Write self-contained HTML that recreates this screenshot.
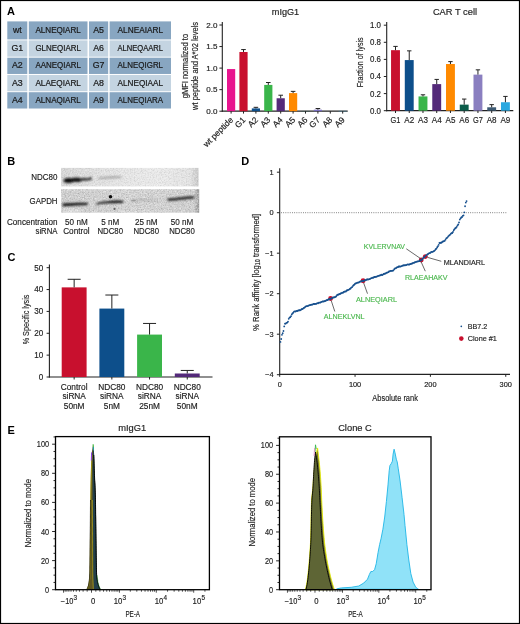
<!DOCTYPE html>
<html><head><meta charset="utf-8"><style>
html,body{margin:0;padding:0;background:#fff;}
svg{display:block;will-change:transform;}
text{font-family:"Liberation Sans",sans-serif;}
</style></head><body>
<svg width="520" height="624" viewBox="0 0 520 624">
<rect width="520" height="624" fill="#fff"/>
<text x="7.00" y="14.80" font-size="11" text-anchor="start" fill="#000" font-weight="bold" >A</text>
<rect x="7.30" y="21.40" width="20.00" height="18.00" fill="#88a6c1" />
<text x="17.30" y="33.00" font-size="8.8" text-anchor="middle" fill="#1a1a1a" stroke="#1a1a1a" stroke-width="0.22">wt</text>
<rect x="28.80" y="21.40" width="58.70" height="18.00" fill="#88a6c1" />
<text x="58.15" y="33.00" font-size="8.8" text-anchor="middle" fill="#1a1a1a" textLength="45.5" lengthAdjust="spacingAndGlyphs" stroke="#1a1a1a" stroke-width="0.22">ALNEQIARL</text>
<rect x="89.00" y="21.40" width="19.20" height="18.00" fill="#88a6c1" />
<text x="98.60" y="33.00" font-size="8.8" text-anchor="middle" fill="#1a1a1a" stroke="#1a1a1a" stroke-width="0.22">A5</text>
<rect x="109.60" y="21.40" width="61.40" height="18.00" fill="#88a6c1" />
<text x="140.30" y="33.00" font-size="8.8" text-anchor="middle" fill="#1a1a1a" textLength="45.5" lengthAdjust="spacingAndGlyphs" stroke="#1a1a1a" stroke-width="0.22">ALNEAIARL</text>
<rect x="7.30" y="40.40" width="20.00" height="16.30" fill="#c4d4e1" />
<text x="17.30" y="51.15" font-size="8.8" text-anchor="middle" fill="#1a1a1a" stroke="#1a1a1a" stroke-width="0.22">G1</text>
<rect x="28.80" y="40.40" width="58.70" height="16.30" fill="#c4d4e1" />
<text x="58.15" y="51.15" font-size="8.8" text-anchor="middle" fill="#1a1a1a" textLength="45.5" lengthAdjust="spacingAndGlyphs" stroke="#1a1a1a" stroke-width="0.22">GLNEQIARL</text>
<rect x="89.00" y="40.40" width="19.20" height="16.30" fill="#c4d4e1" />
<text x="98.60" y="51.15" font-size="8.8" text-anchor="middle" fill="#1a1a1a" stroke="#1a1a1a" stroke-width="0.22">A6</text>
<rect x="109.60" y="40.40" width="61.40" height="16.30" fill="#c4d4e1" />
<text x="140.30" y="51.15" font-size="8.8" text-anchor="middle" fill="#1a1a1a" textLength="45.5" lengthAdjust="spacingAndGlyphs" stroke="#1a1a1a" stroke-width="0.22">ALNEQAARL</text>
<rect x="7.30" y="57.67" width="20.00" height="16.30" fill="#88a6c1" />
<text x="17.30" y="68.42" font-size="8.8" text-anchor="middle" fill="#1a1a1a" stroke="#1a1a1a" stroke-width="0.22">A2</text>
<rect x="28.80" y="57.67" width="58.70" height="16.30" fill="#88a6c1" />
<text x="58.15" y="68.42" font-size="8.8" text-anchor="middle" fill="#1a1a1a" textLength="45.5" lengthAdjust="spacingAndGlyphs" stroke="#1a1a1a" stroke-width="0.22">AANEQIARL</text>
<rect x="89.00" y="57.67" width="19.20" height="16.30" fill="#88a6c1" />
<text x="98.60" y="68.42" font-size="8.8" text-anchor="middle" fill="#1a1a1a" stroke="#1a1a1a" stroke-width="0.22">G7</text>
<rect x="109.60" y="57.67" width="61.40" height="16.30" fill="#88a6c1" />
<text x="140.30" y="68.42" font-size="8.8" text-anchor="middle" fill="#1a1a1a" textLength="45.5" lengthAdjust="spacingAndGlyphs" stroke="#1a1a1a" stroke-width="0.22">ALNEQIGRL</text>
<rect x="7.30" y="74.94" width="20.00" height="16.30" fill="#c4d4e1" />
<text x="17.30" y="85.69" font-size="8.8" text-anchor="middle" fill="#1a1a1a" stroke="#1a1a1a" stroke-width="0.22">A3</text>
<rect x="28.80" y="74.94" width="58.70" height="16.30" fill="#c4d4e1" />
<text x="58.15" y="85.69" font-size="8.8" text-anchor="middle" fill="#1a1a1a" textLength="45.5" lengthAdjust="spacingAndGlyphs" stroke="#1a1a1a" stroke-width="0.22">ALAEQIARL</text>
<rect x="89.00" y="74.94" width="19.20" height="16.30" fill="#c4d4e1" />
<text x="98.60" y="85.69" font-size="8.8" text-anchor="middle" fill="#1a1a1a" stroke="#1a1a1a" stroke-width="0.22">A8</text>
<rect x="109.60" y="74.94" width="61.40" height="16.30" fill="#c4d4e1" />
<text x="140.30" y="85.69" font-size="8.8" text-anchor="middle" fill="#1a1a1a" textLength="45.5" lengthAdjust="spacingAndGlyphs" stroke="#1a1a1a" stroke-width="0.22">ALNEQIAAL</text>
<rect x="7.30" y="92.21" width="20.00" height="16.30" fill="#88a6c1" />
<text x="17.30" y="102.96" font-size="8.8" text-anchor="middle" fill="#1a1a1a" stroke="#1a1a1a" stroke-width="0.22">A4</text>
<rect x="28.80" y="92.21" width="58.70" height="16.30" fill="#88a6c1" />
<text x="58.15" y="102.96" font-size="8.8" text-anchor="middle" fill="#1a1a1a" textLength="45.5" lengthAdjust="spacingAndGlyphs" stroke="#1a1a1a" stroke-width="0.22">ALNAQIARL</text>
<rect x="89.00" y="92.21" width="19.20" height="16.30" fill="#88a6c1" />
<text x="98.60" y="102.96" font-size="8.8" text-anchor="middle" fill="#1a1a1a" stroke="#1a1a1a" stroke-width="0.22">A9</text>
<rect x="109.60" y="92.21" width="61.40" height="16.30" fill="#88a6c1" />
<text x="140.30" y="102.96" font-size="8.8" text-anchor="middle" fill="#1a1a1a" textLength="45.5" lengthAdjust="spacingAndGlyphs" stroke="#1a1a1a" stroke-width="0.22">ALNEQIARA</text>
<line x1="222.30" y1="22.00" x2="222.30" y2="111.70" stroke="#222" stroke-width="1.1" />
<line x1="221.80" y1="111.20" x2="347.70" y2="111.20" stroke="#222" stroke-width="1.2" />
<line x1="219.40" y1="111.20" x2="222.30" y2="111.20" stroke="#222" stroke-width="1" />
<text x="217.40" y="114.00" font-size="8.0" text-anchor="end" fill="#222" stroke="#222" stroke-width="0.16" textLength="11.2" lengthAdjust="spacingAndGlyphs" >0.0</text>
<line x1="219.40" y1="89.65" x2="222.30" y2="89.65" stroke="#222" stroke-width="1" />
<text x="217.40" y="92.45" font-size="8.0" text-anchor="end" fill="#222" stroke="#222" stroke-width="0.16" textLength="11.2" lengthAdjust="spacingAndGlyphs" >0.5</text>
<line x1="219.40" y1="68.10" x2="222.30" y2="68.10" stroke="#222" stroke-width="1" />
<text x="217.40" y="70.90" font-size="8.0" text-anchor="end" fill="#222" stroke="#222" stroke-width="0.16" textLength="11.2" lengthAdjust="spacingAndGlyphs" >1.0</text>
<line x1="219.40" y1="46.55" x2="222.30" y2="46.55" stroke="#222" stroke-width="1" />
<text x="217.40" y="49.35" font-size="8.0" text-anchor="end" fill="#222" stroke="#222" stroke-width="0.16" textLength="11.2" lengthAdjust="spacingAndGlyphs" >1.5</text>
<line x1="219.40" y1="25.00" x2="222.30" y2="25.00" stroke="#222" stroke-width="1" />
<text x="217.40" y="27.80" font-size="8.0" text-anchor="end" fill="#222" stroke="#222" stroke-width="0.16" textLength="11.2" lengthAdjust="spacingAndGlyphs" >2.0</text>
<rect x="227.00" y="69.05" width="8.20" height="42.15" fill="#e8158f" />
<line x1="231.10" y1="111.20" x2="231.10" y2="113.60" stroke="#222" stroke-width="1" />
<text x="233.70" y="120.50" font-size="8.4" text-anchor="end" fill="#222" stroke="#222" stroke-width="0.16" transform="rotate(-45 233.70 120.5)">wt peptide</text>
<rect x="239.40" y="51.98" width="8.20" height="59.22" fill="#c8102e" />
<line x1="243.50" y1="49.57" x2="243.50" y2="51.98" stroke="#222" stroke-width="1" />
<line x1="241.20" y1="49.57" x2="245.80" y2="49.57" stroke="#222" stroke-width="1" />
<line x1="243.50" y1="111.20" x2="243.50" y2="113.60" stroke="#222" stroke-width="1" />
<text x="246.10" y="120.50" font-size="8.4" text-anchor="end" fill="#222" stroke="#222" stroke-width="0.16" transform="rotate(-45 246.10 120.5)">G1</text>
<rect x="251.80" y="108.40" width="8.20" height="2.80" fill="#0d4f8b" />
<line x1="255.90" y1="107.32" x2="255.90" y2="108.40" stroke="#222" stroke-width="1" />
<line x1="253.60" y1="107.32" x2="258.20" y2="107.32" stroke="#222" stroke-width="1" />
<line x1="255.90" y1="111.20" x2="255.90" y2="113.60" stroke="#222" stroke-width="1" />
<text x="258.50" y="120.50" font-size="8.4" text-anchor="end" fill="#222" stroke="#222" stroke-width="0.16" transform="rotate(-45 258.50 120.5)">A2</text>
<rect x="264.20" y="84.91" width="8.20" height="26.29" fill="#3ab54a" />
<line x1="268.30" y1="82.50" x2="268.30" y2="84.91" stroke="#222" stroke-width="1" />
<line x1="266.00" y1="82.50" x2="270.60" y2="82.50" stroke="#222" stroke-width="1" />
<line x1="268.30" y1="111.20" x2="268.30" y2="113.60" stroke="#222" stroke-width="1" />
<text x="270.90" y="120.50" font-size="8.4" text-anchor="end" fill="#222" stroke="#222" stroke-width="0.16" transform="rotate(-45 270.90 120.5)">A3</text>
<rect x="276.60" y="98.27" width="8.20" height="12.93" fill="#542a7a" />
<line x1="280.70" y1="95.21" x2="280.70" y2="98.27" stroke="#222" stroke-width="1" />
<line x1="278.40" y1="95.21" x2="283.00" y2="95.21" stroke="#222" stroke-width="1" />
<line x1="280.70" y1="111.20" x2="280.70" y2="113.60" stroke="#222" stroke-width="1" />
<text x="283.30" y="120.50" font-size="8.4" text-anchor="end" fill="#222" stroke="#222" stroke-width="0.16" transform="rotate(-45 283.30 120.5)">A4</text>
<rect x="289.00" y="93.10" width="8.20" height="18.10" fill="#ff8a00" />
<line x1="293.10" y1="91.37" x2="293.10" y2="93.10" stroke="#222" stroke-width="1" />
<line x1="290.80" y1="91.37" x2="295.40" y2="91.37" stroke="#222" stroke-width="1" />
<line x1="293.10" y1="111.20" x2="293.10" y2="113.60" stroke="#222" stroke-width="1" />
<text x="295.70" y="120.50" font-size="8.4" text-anchor="end" fill="#222" stroke="#222" stroke-width="0.16" transform="rotate(-45 295.70 120.5)">A5</text>
<rect x="301.40" y="110.98" width="8.20" height="0.22" fill="#0b5c4a" />
<line x1="305.50" y1="111.20" x2="305.50" y2="113.60" stroke="#222" stroke-width="1" />
<text x="308.10" y="120.50" font-size="8.4" text-anchor="end" fill="#222" stroke="#222" stroke-width="0.16" transform="rotate(-45 308.10 120.5)">A6</text>
<rect x="313.80" y="109.69" width="8.20" height="1.51" fill="#7a6fc0" />
<line x1="317.90" y1="108.53" x2="317.90" y2="109.69" stroke="#222" stroke-width="1" />
<line x1="315.60" y1="108.53" x2="320.20" y2="108.53" stroke="#222" stroke-width="1" />
<line x1="317.90" y1="111.20" x2="317.90" y2="113.60" stroke="#222" stroke-width="1" />
<text x="320.50" y="120.50" font-size="8.4" text-anchor="end" fill="#222" stroke="#222" stroke-width="0.16" transform="rotate(-45 320.50 120.5)">G7</text>
<line x1="330.30" y1="111.20" x2="330.30" y2="113.60" stroke="#222" stroke-width="1" />
<text x="332.90" y="120.50" font-size="8.4" text-anchor="end" fill="#222" stroke="#222" stroke-width="0.16" transform="rotate(-45 332.90 120.5)">A8</text>
<rect x="338.60" y="110.94" width="8.20" height="0.26" fill="#2aa8e0" />
<line x1="342.70" y1="111.20" x2="342.70" y2="113.60" stroke="#222" stroke-width="1" />
<text x="345.30" y="120.50" font-size="8.4" text-anchor="end" fill="#222" stroke="#222" stroke-width="0.16" transform="rotate(-45 345.30 120.5)">A9</text>
<text x="285.50" y="15.00" font-size="9" text-anchor="middle" fill="#222" stroke="#222" stroke-width="0.16" textLength="27.4" lengthAdjust="spacingAndGlyphs" >mIgG1</text>
<text x="0.00" y="0.00" font-size="9.0" text-anchor="middle" fill="#222" stroke="#222" stroke-width="0.16" textLength="64.4" lengthAdjust="spacingAndGlyphs" transform="translate(188.3,66.1) rotate(-90)">gMFI normalized to</text>
<text x="0.00" y="0.00" font-size="9.0" text-anchor="middle" fill="#222" stroke="#222" stroke-width="0.16" textLength="88" lengthAdjust="spacingAndGlyphs" transform="translate(198.4,65.9) rotate(-90)">wt peptide and A*02 levels</text>
<line x1="386.70" y1="22.00" x2="386.70" y2="111.20" stroke="#222" stroke-width="1.1" />
<line x1="386.20" y1="110.70" x2="513.30" y2="110.70" stroke="#222" stroke-width="1.2" />
<line x1="383.80" y1="110.70" x2="386.70" y2="110.70" stroke="#222" stroke-width="1" />
<text x="381.00" y="113.60" font-size="8.2" text-anchor="end" fill="#222" stroke="#222" stroke-width="0.16" textLength="11" lengthAdjust="spacingAndGlyphs" >0.0</text>
<line x1="383.80" y1="93.60" x2="386.70" y2="93.60" stroke="#222" stroke-width="1" />
<text x="381.00" y="96.50" font-size="8.2" text-anchor="end" fill="#222" stroke="#222" stroke-width="0.16" textLength="11" lengthAdjust="spacingAndGlyphs" >0.2</text>
<line x1="383.80" y1="76.50" x2="386.70" y2="76.50" stroke="#222" stroke-width="1" />
<text x="381.00" y="79.40" font-size="8.2" text-anchor="end" fill="#222" stroke="#222" stroke-width="0.16" textLength="11" lengthAdjust="spacingAndGlyphs" >0.4</text>
<line x1="383.80" y1="59.40" x2="386.70" y2="59.40" stroke="#222" stroke-width="1" />
<text x="381.00" y="62.30" font-size="8.2" text-anchor="end" fill="#222" stroke="#222" stroke-width="0.16" textLength="11" lengthAdjust="spacingAndGlyphs" >0.6</text>
<line x1="383.80" y1="42.30" x2="386.70" y2="42.30" stroke="#222" stroke-width="1" />
<text x="381.00" y="45.20" font-size="8.2" text-anchor="end" fill="#222" stroke="#222" stroke-width="0.16" textLength="11" lengthAdjust="spacingAndGlyphs" >0.8</text>
<line x1="383.80" y1="25.20" x2="386.70" y2="25.20" stroke="#222" stroke-width="1" />
<text x="381.00" y="28.10" font-size="8.2" text-anchor="end" fill="#222" stroke="#222" stroke-width="0.16" textLength="11" lengthAdjust="spacingAndGlyphs" >1.0</text>
<rect x="391.05" y="50.17" width="8.90" height="60.53" fill="#c8102e" />
<line x1="395.50" y1="46.40" x2="395.50" y2="50.17" stroke="#222" stroke-width="1" />
<line x1="393.30" y1="46.40" x2="397.70" y2="46.40" stroke="#222" stroke-width="1" />
<line x1="395.50" y1="110.70" x2="395.50" y2="113.00" stroke="#222" stroke-width="1" />
<text x="395.50" y="122.90" font-size="9.6" text-anchor="middle" fill="#222" stroke="#222" stroke-width="0.16" textLength="9.9" lengthAdjust="spacingAndGlyphs" >G1</text>
<rect x="404.79" y="60.08" width="8.90" height="50.62" fill="#0d4f8b" />
<line x1="409.24" y1="50.85" x2="409.24" y2="60.08" stroke="#222" stroke-width="1" />
<line x1="407.04" y1="50.85" x2="411.44" y2="50.85" stroke="#222" stroke-width="1" />
<line x1="409.24" y1="110.70" x2="409.24" y2="113.00" stroke="#222" stroke-width="1" />
<text x="409.24" y="122.90" font-size="9.6" text-anchor="middle" fill="#222" stroke="#222" stroke-width="0.16" textLength="9.9" lengthAdjust="spacingAndGlyphs" >A2</text>
<rect x="418.53" y="96.42" width="8.90" height="14.28" fill="#3ab54a" />
<line x1="422.98" y1="94.80" x2="422.98" y2="96.42" stroke="#222" stroke-width="1" />
<line x1="420.78" y1="94.80" x2="425.18" y2="94.80" stroke="#222" stroke-width="1" />
<line x1="422.98" y1="110.70" x2="422.98" y2="113.00" stroke="#222" stroke-width="1" />
<text x="422.98" y="122.90" font-size="9.6" text-anchor="middle" fill="#222" stroke="#222" stroke-width="0.16" textLength="9.9" lengthAdjust="spacingAndGlyphs" >A3</text>
<rect x="432.27" y="84.11" width="8.90" height="26.59" fill="#542a7a" />
<line x1="436.72" y1="79.41" x2="436.72" y2="84.11" stroke="#222" stroke-width="1" />
<line x1="434.52" y1="79.41" x2="438.92" y2="79.41" stroke="#222" stroke-width="1" />
<line x1="436.72" y1="110.70" x2="436.72" y2="113.00" stroke="#222" stroke-width="1" />
<text x="436.72" y="122.90" font-size="9.6" text-anchor="middle" fill="#222" stroke="#222" stroke-width="0.16" textLength="9.9" lengthAdjust="spacingAndGlyphs" >A4</text>
<rect x="446.01" y="64.02" width="8.90" height="46.68" fill="#ff8a00" />
<line x1="450.46" y1="61.62" x2="450.46" y2="64.02" stroke="#222" stroke-width="1" />
<line x1="448.26" y1="61.62" x2="452.66" y2="61.62" stroke="#222" stroke-width="1" />
<line x1="450.46" y1="110.70" x2="450.46" y2="113.00" stroke="#222" stroke-width="1" />
<text x="450.46" y="122.90" font-size="9.6" text-anchor="middle" fill="#222" stroke="#222" stroke-width="0.16" textLength="9.9" lengthAdjust="spacingAndGlyphs" >A5</text>
<rect x="459.75" y="104.63" width="8.90" height="6.07" fill="#0b5c4a" />
<line x1="464.20" y1="99.07" x2="464.20" y2="104.63" stroke="#222" stroke-width="1" />
<line x1="462.00" y1="99.07" x2="466.40" y2="99.07" stroke="#222" stroke-width="1" />
<line x1="464.20" y1="110.70" x2="464.20" y2="113.00" stroke="#222" stroke-width="1" />
<text x="464.20" y="122.90" font-size="9.6" text-anchor="middle" fill="#222" stroke="#222" stroke-width="0.16" textLength="9.9" lengthAdjust="spacingAndGlyphs" >A6</text>
<rect x="473.49" y="74.62" width="8.90" height="36.08" fill="#8a7fc0" />
<line x1="477.94" y1="69.83" x2="477.94" y2="74.62" stroke="#222" stroke-width="1" />
<line x1="475.74" y1="69.83" x2="480.14" y2="69.83" stroke="#222" stroke-width="1" />
<line x1="477.94" y1="110.70" x2="477.94" y2="113.00" stroke="#222" stroke-width="1" />
<text x="477.94" y="122.90" font-size="9.6" text-anchor="middle" fill="#222" stroke="#222" stroke-width="0.16" textLength="9.9" lengthAdjust="spacingAndGlyphs" >G7</text>
<rect x="487.23" y="107.28" width="8.90" height="3.42" fill="#3d5a73" />
<line x1="491.68" y1="104.63" x2="491.68" y2="107.28" stroke="#222" stroke-width="1" />
<line x1="489.48" y1="104.63" x2="493.88" y2="104.63" stroke="#222" stroke-width="1" />
<line x1="491.68" y1="110.70" x2="491.68" y2="113.00" stroke="#222" stroke-width="1" />
<text x="491.68" y="122.90" font-size="9.6" text-anchor="middle" fill="#222" stroke="#222" stroke-width="0.16" textLength="9.9" lengthAdjust="spacingAndGlyphs" >A8</text>
<rect x="500.97" y="102.24" width="8.90" height="8.46" fill="#2aa8e0" />
<line x1="505.42" y1="96.42" x2="505.42" y2="102.24" stroke="#222" stroke-width="1" />
<line x1="503.22" y1="96.42" x2="507.62" y2="96.42" stroke="#222" stroke-width="1" />
<line x1="505.42" y1="110.70" x2="505.42" y2="113.00" stroke="#222" stroke-width="1" />
<text x="505.42" y="122.90" font-size="9.6" text-anchor="middle" fill="#222" stroke="#222" stroke-width="0.16" textLength="9.9" lengthAdjust="spacingAndGlyphs" >A9</text>
<text x="455.00" y="15.40" font-size="9.5" text-anchor="middle" fill="#222" stroke="#222" stroke-width="0.16" textLength="44.2" lengthAdjust="spacingAndGlyphs" >CAR T cell</text>
<text x="0.00" y="0.00" font-size="9.5" text-anchor="middle" fill="#222" stroke="#222" stroke-width="0.16" textLength="50" lengthAdjust="spacingAndGlyphs" transform="translate(363.2,62.3) rotate(-90)">Fraction of lysis</text>
<text x="7.20" y="164.80" font-size="11" text-anchor="start" fill="#000" font-weight="bold" >B</text>
<defs><filter id="noise" x="0" y="0" width="100%" height="100%" color-interpolation-filters="sRGB"><feTurbulence type="fractalNoise" baseFrequency="0.75" numOctaves="2" seed="5" result="n"/><feColorMatrix in="n" type="matrix" values="0 0 0 0 0  0 0 0 0 0  0 0 0 0 0  0 0 0 -2.2 1.25" result="m"/><feComposite in="m" in2="SourceGraphic" operator="in"/></filter><filter id="noiseW" x="0" y="0" width="100%" height="100%" color-interpolation-filters="sRGB"><feTurbulence type="fractalNoise" baseFrequency="0.7" numOctaves="2" seed="11" result="n"/><feColorMatrix in="n" type="matrix" values="0 0 0 0 1  0 0 0 0 1  0 0 0 0 1  0 0 0 2.4 -1.15" result="m"/><feComposite in="m" in2="SourceGraphic" operator="in"/></filter><filter id="bl1" x="-30%" y="-100%" width="160%" height="300%"><feGaussianBlur stdDeviation="0.85"/></filter><filter id="bl2" x="-50%" y="-50%" width="200%" height="200%"><feGaussianBlur stdDeviation="0.6"/></filter><filter id="bl3" x="-30%" y="-100%" width="160%" height="300%"><feGaussianBlur stdDeviation="1.1"/></filter><linearGradient id="g1" x1="0" x2="1" y1="0" y2="0"><stop offset="0" stop-color="#d8d8d8"/><stop offset="0.35" stop-color="#e4e4e4"/><stop offset="0.7" stop-color="#ebebeb"/><stop offset="0.94" stop-color="#e4e4e4"/><stop offset="1" stop-color="#c8c8c8"/></linearGradient><linearGradient id="g2" x1="0" x2="1" y1="0" y2="0"><stop offset="0" stop-color="#cfcfcf"/><stop offset="0.5" stop-color="#d6d6d6"/><stop offset="0.96" stop-color="#d2d2d2"/><stop offset="1" stop-color="#9a9a9a"/></linearGradient></defs>
<rect x="61.10" y="167.90" width="137.40" height="18.50" fill="url(#g1)" />
<rect x="61.10" y="167.90" width="137.40" height="18.50" fill="#000" opacity="0.11" filter="url(#noise)"/>
<rect x="61.10" y="167.90" width="137.40" height="18.50" fill="#fff" opacity="0.5" filter="url(#noiseW)"/>
<rect x="61.10" y="189.20" width="138.10" height="23.50" fill="url(#g2)" />
<rect x="61.10" y="189.20" width="138.10" height="23.50" fill="#000" opacity="0.18" filter="url(#noise)"/>
<rect x="61.10" y="189.20" width="138.10" height="23.50" fill="#fff" opacity="0.6" filter="url(#noiseW)"/>
<ellipse cx="72" cy="211" rx="10" ry="3" fill="#fff" opacity="0.25" filter="url(#bl3)"/>
<g filter="url(#bl1)"><ellipse cx="68.6" cy="180.6" rx="5.0" ry="2.5" fill="#111"/><ellipse cx="76.5" cy="179.8" rx="6.2" ry="2.3" fill="#141414"/><ellipse cx="84.5" cy="179.3" rx="5.2" ry="1.5" fill="#3a3a3a"/><circle cx="90.2" cy="178.8" r="1.45" fill="#1a1a1a"/></g>
<path d="M98.2,177.8 C104,176.4 114,175.9 121.7,176.4 L121.7,178.1 C114,178.2 104,178.8 98.2,179.3 Z" fill="#8c8c8c" opacity="0.75" filter="url(#bl3)"/>
<g filter="url(#bl1)"><path d="M62.6,203.4 C70,203.0 80,202.6 87.7,202.8 L87.7,205.0 C80,205.2 70,205.9 62.6,206.3 Z" fill="#151515"/><path d="M96.4,203.6 C100,201.8 108,201.0 114,200.6 C118,200.4 121,200.5 123.3,200.9 L123.3,202.9 C118,203.0 110,203.2 104,203.4 C100,203.6 98,204.2 96.4,205.0 Z" fill="#161616"/><path d="M167.7,198.6 C176,197.8 186,196.6 194.2,196.3 L194.2,198.4 C186,198.8 176,200.2 167.7,201.1 Z" fill="#1a1a1a"/></g>
<circle cx="110.5" cy="196.7" r="1.8" fill="#111" filter="url(#bl2)"/>
<circle cx="114.5" cy="208.9" r="1.1" fill="#666" filter="url(#bl2)"/>
<path d="M131,200.0 C140,199.4 150,199.5 156.5,199.7 L156.5,200.8 C150,200.8 140,201.0 131,201.3 Z" fill="#8a8a8a" opacity="0.55" filter="url(#bl1)"/>
<ellipse cx="133.5" cy="200.6" rx="2.5" ry="0.9" fill="#777" opacity="0.5" filter="url(#bl2)"/>
<text x="57.50" y="180.40" font-size="9.4" text-anchor="end" fill="#222" stroke="#222" stroke-width="0.16" textLength="26.2" lengthAdjust="spacingAndGlyphs" >NDC80</text>
<text x="57.50" y="204.20" font-size="9.4" text-anchor="end" fill="#222" stroke="#222" stroke-width="0.16" textLength="27.9" lengthAdjust="spacingAndGlyphs" >GAPDH</text>
<text x="57.50" y="224.70" font-size="9.4" text-anchor="end" fill="#222" stroke="#222" stroke-width="0.16" textLength="50.5" lengthAdjust="spacingAndGlyphs" >Concentration</text>
<text x="57.50" y="233.90" font-size="9.4" text-anchor="end" fill="#222" stroke="#222" stroke-width="0.16" textLength="22" lengthAdjust="spacingAndGlyphs" >siRNA</text>
<text x="76.40" y="224.70" font-size="9.4" text-anchor="middle" fill="#222" stroke="#222" stroke-width="0.16" textLength="22.6" lengthAdjust="spacingAndGlyphs" >50 nM</text>
<text x="76.40" y="233.90" font-size="9.4" text-anchor="middle" fill="#222" stroke="#222" stroke-width="0.16" textLength="26.4" lengthAdjust="spacingAndGlyphs" >Control</text>
<text x="110.20" y="224.70" font-size="9.4" text-anchor="middle" fill="#222" stroke="#222" stroke-width="0.16" textLength="18.0" lengthAdjust="spacingAndGlyphs" >5 nM</text>
<text x="110.20" y="233.90" font-size="9.4" text-anchor="middle" fill="#222" stroke="#222" stroke-width="0.16" textLength="25.6" lengthAdjust="spacingAndGlyphs" >NDC80</text>
<text x="146.20" y="224.70" font-size="9.4" text-anchor="middle" fill="#222" stroke="#222" stroke-width="0.16" textLength="22.6" lengthAdjust="spacingAndGlyphs" >25 nM</text>
<text x="146.20" y="233.90" font-size="9.4" text-anchor="middle" fill="#222" stroke="#222" stroke-width="0.16" textLength="25.6" lengthAdjust="spacingAndGlyphs" >NDC80</text>
<text x="182.00" y="224.70" font-size="9.4" text-anchor="middle" fill="#222" stroke="#222" stroke-width="0.16" textLength="22.6" lengthAdjust="spacingAndGlyphs" >50 nM</text>
<text x="182.00" y="233.90" font-size="9.4" text-anchor="middle" fill="#222" stroke="#222" stroke-width="0.16" textLength="25.6" lengthAdjust="spacingAndGlyphs" >NDC80</text>
<text x="7.40" y="260.60" font-size="11" text-anchor="start" fill="#000" font-weight="bold" >C</text>
<line x1="49.40" y1="264.50" x2="49.40" y2="377.50" stroke="#222" stroke-width="1.1" />
<line x1="48.90" y1="377.00" x2="212.50" y2="377.00" stroke="#222" stroke-width="1.2" />
<line x1="46.60" y1="377.00" x2="49.40" y2="377.00" stroke="#222" stroke-width="1" />
<text x="43.30" y="379.90" font-size="8.2" text-anchor="end" fill="#222" stroke="#222" stroke-width="0.16" textLength="4.5" lengthAdjust="spacingAndGlyphs" >0</text>
<line x1="46.60" y1="355.14" x2="49.40" y2="355.14" stroke="#222" stroke-width="1" />
<text x="43.30" y="358.04" font-size="8.2" text-anchor="end" fill="#222" stroke="#222" stroke-width="0.16" textLength="9.0" lengthAdjust="spacingAndGlyphs" >10</text>
<line x1="46.60" y1="333.28" x2="49.40" y2="333.28" stroke="#222" stroke-width="1" />
<text x="43.30" y="336.18" font-size="8.2" text-anchor="end" fill="#222" stroke="#222" stroke-width="0.16" textLength="9.0" lengthAdjust="spacingAndGlyphs" >20</text>
<line x1="46.60" y1="311.42" x2="49.40" y2="311.42" stroke="#222" stroke-width="1" />
<text x="43.30" y="314.32" font-size="8.2" text-anchor="end" fill="#222" stroke="#222" stroke-width="0.16" textLength="9.0" lengthAdjust="spacingAndGlyphs" >30</text>
<line x1="46.60" y1="289.56" x2="49.40" y2="289.56" stroke="#222" stroke-width="1" />
<text x="43.30" y="292.46" font-size="8.2" text-anchor="end" fill="#222" stroke="#222" stroke-width="0.16" textLength="9.0" lengthAdjust="spacingAndGlyphs" >40</text>
<line x1="46.60" y1="267.70" x2="49.40" y2="267.70" stroke="#222" stroke-width="1" />
<text x="43.30" y="270.60" font-size="8.2" text-anchor="end" fill="#222" stroke="#222" stroke-width="0.16" textLength="9.0" lengthAdjust="spacingAndGlyphs" >50</text>
<rect x="61.70" y="287.37" width="24.90" height="89.63" fill="#c8102e" />
<line x1="74.15" y1="279.29" x2="74.15" y2="287.37" stroke="#222" stroke-width="1" />
<line x1="67.65" y1="279.29" x2="80.65" y2="279.29" stroke="#222" stroke-width="1" />
<line x1="74.15" y1="377.00" x2="74.15" y2="379.50" stroke="#222" stroke-width="1" />
<text x="74.15" y="389.80" font-size="8.3" text-anchor="middle" fill="#222" stroke="#222" stroke-width="0.16" >Control</text>
<text x="74.15" y="399.40" font-size="8.3" text-anchor="middle" fill="#222" stroke="#222" stroke-width="0.16" >siRNA</text>
<text x="74.15" y="409.00" font-size="8.3" text-anchor="middle" fill="#222" stroke="#222" stroke-width="0.16" >50nM</text>
<rect x="99.40" y="308.58" width="24.90" height="68.42" fill="#0d4f8b" />
<line x1="111.85" y1="295.02" x2="111.85" y2="308.58" stroke="#222" stroke-width="1" />
<line x1="105.35" y1="295.02" x2="118.35" y2="295.02" stroke="#222" stroke-width="1" />
<line x1="111.85" y1="377.00" x2="111.85" y2="379.50" stroke="#222" stroke-width="1" />
<text x="111.85" y="389.80" font-size="8.3" text-anchor="middle" fill="#222" stroke="#222" stroke-width="0.16" >NDC80</text>
<text x="111.85" y="399.40" font-size="8.3" text-anchor="middle" fill="#222" stroke="#222" stroke-width="0.16" >siRNA</text>
<text x="111.85" y="409.00" font-size="8.3" text-anchor="middle" fill="#222" stroke="#222" stroke-width="0.16" >5nM</text>
<rect x="137.10" y="334.59" width="24.90" height="42.41" fill="#3ab54a" />
<line x1="149.55" y1="323.44" x2="149.55" y2="334.59" stroke="#222" stroke-width="1" />
<line x1="143.05" y1="323.44" x2="156.05" y2="323.44" stroke="#222" stroke-width="1" />
<line x1="149.55" y1="377.00" x2="149.55" y2="379.50" stroke="#222" stroke-width="1" />
<text x="149.55" y="389.80" font-size="8.3" text-anchor="middle" fill="#222" stroke="#222" stroke-width="0.16" >NDC80</text>
<text x="149.55" y="399.40" font-size="8.3" text-anchor="middle" fill="#222" stroke="#222" stroke-width="0.16" >siRNA</text>
<text x="149.55" y="409.00" font-size="8.3" text-anchor="middle" fill="#222" stroke="#222" stroke-width="0.16" >25nM</text>
<rect x="174.80" y="373.50" width="24.90" height="3.50" fill="#542a7a" />
<line x1="187.25" y1="370.44" x2="187.25" y2="373.50" stroke="#222" stroke-width="1" />
<line x1="180.75" y1="370.44" x2="193.75" y2="370.44" stroke="#222" stroke-width="1" />
<line x1="187.25" y1="377.00" x2="187.25" y2="379.50" stroke="#222" stroke-width="1" />
<text x="187.25" y="389.80" font-size="8.3" text-anchor="middle" fill="#222" stroke="#222" stroke-width="0.16" >NDC80</text>
<text x="187.25" y="399.40" font-size="8.3" text-anchor="middle" fill="#222" stroke="#222" stroke-width="0.16" >siRNA</text>
<text x="187.25" y="409.00" font-size="8.3" text-anchor="middle" fill="#222" stroke="#222" stroke-width="0.16" >50nM</text>
<text x="0.00" y="0.00" font-size="9.6" text-anchor="middle" fill="#222" stroke="#222" stroke-width="0.16" textLength="49.7" lengthAdjust="spacingAndGlyphs" transform="translate(28.6,319.5) rotate(-90)">% Specific lysis</text>
<text x="241.30" y="164.70" font-size="11" text-anchor="start" fill="#000" font-weight="bold" >D</text>
<line x1="279.70" y1="168.20" x2="279.70" y2="374.80" stroke="#222" stroke-width="1.1" />
<line x1="279.20" y1="374.30" x2="510.00" y2="374.30" stroke="#222" stroke-width="1.2" />
<line x1="276.90" y1="172.20" x2="279.70" y2="172.20" stroke="#222" stroke-width="1" />
<text x="273.50" y="174.60" font-size="7.4" text-anchor="end" fill="#222" stroke="#222" stroke-width="0.16" >1</text>
<line x1="276.90" y1="212.70" x2="279.70" y2="212.70" stroke="#222" stroke-width="1" />
<text x="273.50" y="215.10" font-size="7.4" text-anchor="end" fill="#222" stroke="#222" stroke-width="0.16" >0</text>
<line x1="276.90" y1="253.20" x2="279.70" y2="253.20" stroke="#222" stroke-width="1" />
<text x="273.50" y="255.60" font-size="7.4" text-anchor="end" fill="#222" stroke="#222" stroke-width="0.16" >&#8722;1</text>
<line x1="276.90" y1="293.70" x2="279.70" y2="293.70" stroke="#222" stroke-width="1" />
<text x="273.50" y="296.10" font-size="7.4" text-anchor="end" fill="#222" stroke="#222" stroke-width="0.16" >&#8722;2</text>
<line x1="276.90" y1="334.20" x2="279.70" y2="334.20" stroke="#222" stroke-width="1" />
<text x="273.50" y="336.60" font-size="7.4" text-anchor="end" fill="#222" stroke="#222" stroke-width="0.16" >&#8722;3</text>
<line x1="276.90" y1="374.70" x2="279.70" y2="374.70" stroke="#222" stroke-width="1" />
<text x="273.50" y="377.10" font-size="7.4" text-anchor="end" fill="#222" stroke="#222" stroke-width="0.16" >&#8722;4</text>
<line x1="279.70" y1="374.30" x2="279.70" y2="376.80" stroke="#222" stroke-width="1" />
<text x="279.70" y="386.80" font-size="7.4" text-anchor="middle" fill="#222" stroke="#222" stroke-width="0.16" >0</text>
<line x1="355.05" y1="374.30" x2="355.05" y2="376.80" stroke="#222" stroke-width="1" />
<text x="355.05" y="386.80" font-size="7.4" text-anchor="middle" fill="#222" stroke="#222" stroke-width="0.16" >100</text>
<line x1="430.40" y1="374.30" x2="430.40" y2="376.80" stroke="#222" stroke-width="1" />
<text x="430.40" y="386.80" font-size="7.4" text-anchor="middle" fill="#222" stroke="#222" stroke-width="0.16" >200</text>
<line x1="505.75" y1="374.30" x2="505.75" y2="376.80" stroke="#222" stroke-width="1" />
<text x="505.75" y="386.80" font-size="7.4" text-anchor="middle" fill="#222" stroke="#222" stroke-width="0.16" >300</text>
<line x1="281" y1="212.7" x2="507" y2="212.7" stroke="#555" stroke-width="0.8" stroke-dasharray="0.9 1.3"/>
<text x="395.10" y="400.80" font-size="9.6" text-anchor="middle" fill="#222" stroke="#222" stroke-width="0.16" textLength="45.6" lengthAdjust="spacingAndGlyphs" >Absolute rank</text>
<text x="0.00" y="0.00" font-size="9.3" text-anchor="middle" fill="#222" stroke="#222" stroke-width="0.16" textLength="117" lengthAdjust="spacingAndGlyphs" transform="translate(258.6,272.4) rotate(-90)">% Rank affinity [log<tspan font-size="6.4" dy="1.8">10</tspan><tspan dy="-1.8"> transformed]</tspan></text>
<circle cx="330.6" cy="298.5" r="2.45" fill="#c8102e"/>
<circle cx="363.1" cy="280.8" r="2.45" fill="#c8102e"/>
<circle cx="421.2" cy="260.0" r="2.45" fill="#c8102e"/>
<circle cx="425.3" cy="256.6" r="2.45" fill="#c8102e"/>
<g fill="#17508e"><circle cx="280.45" cy="341.91" r="0.9"/><circle cx="281.21" cy="339.01" r="0.9"/><circle cx="281.96" cy="334.84" r="0.9"/><circle cx="282.71" cy="333.25" r="0.9"/><circle cx="283.47" cy="331.02" r="0.9"/><circle cx="284.22" cy="326.38" r="0.9"/><circle cx="284.97" cy="323.67" r="0.9"/><circle cx="285.73" cy="323.54" r="0.9"/><circle cx="286.48" cy="322.82" r="0.9"/><circle cx="287.24" cy="322.53" r="0.9"/><circle cx="287.99" cy="321.71" r="0.9"/><circle cx="288.74" cy="318.84" r="0.9"/><circle cx="289.50" cy="317.70" r="0.9"/><circle cx="290.25" cy="317.15" r="0.9"/><circle cx="291.00" cy="316.20" r="0.9"/><circle cx="291.76" cy="314.46" r="0.9"/><circle cx="292.51" cy="313.41" r="0.9"/><circle cx="293.26" cy="312.63" r="0.9"/><circle cx="294.02" cy="311.61" r="0.9"/><circle cx="294.77" cy="311.33" r="0.9"/><circle cx="295.52" cy="311.59" r="0.9"/><circle cx="296.28" cy="310.79" r="0.9"/><circle cx="297.03" cy="311.21" r="0.9"/><circle cx="297.78" cy="310.67" r="0.9"/><circle cx="298.54" cy="310.43" r="0.9"/><circle cx="299.29" cy="310.27" r="0.9"/><circle cx="300.04" cy="310.24" r="0.9"/><circle cx="300.80" cy="310.12" r="0.9"/><circle cx="301.55" cy="309.21" r="0.9"/><circle cx="302.31" cy="309.02" r="0.9"/><circle cx="303.06" cy="308.59" r="0.9"/><circle cx="303.81" cy="307.93" r="0.9"/><circle cx="304.57" cy="307.58" r="0.9"/><circle cx="305.32" cy="306.77" r="0.9"/><circle cx="306.07" cy="306.30" r="0.9"/><circle cx="306.83" cy="306.04" r="0.9"/><circle cx="307.58" cy="306.10" r="0.9"/><circle cx="308.33" cy="305.65" r="0.9"/><circle cx="309.09" cy="305.29" r="0.9"/><circle cx="309.84" cy="305.22" r="0.9"/><circle cx="310.59" cy="304.89" r="0.9"/><circle cx="311.35" cy="304.55" r="0.9"/><circle cx="312.10" cy="304.66" r="0.9"/><circle cx="312.85" cy="304.35" r="0.9"/><circle cx="313.61" cy="303.90" r="0.9"/><circle cx="314.36" cy="304.01" r="0.9"/><circle cx="315.11" cy="303.85" r="0.9"/><circle cx="315.87" cy="303.91" r="0.9"/><circle cx="316.62" cy="303.60" r="0.9"/><circle cx="317.38" cy="303.08" r="0.9"/><circle cx="318.13" cy="303.35" r="0.9"/><circle cx="318.88" cy="302.54" r="0.9"/><circle cx="319.64" cy="302.54" r="0.9"/><circle cx="320.39" cy="302.55" r="0.9"/><circle cx="321.14" cy="301.88" r="0.9"/><circle cx="321.90" cy="301.86" r="0.9"/><circle cx="322.65" cy="301.29" r="0.9"/><circle cx="323.40" cy="301.48" r="0.9"/><circle cx="324.16" cy="301.30" r="0.9"/><circle cx="324.91" cy="300.91" r="0.9"/><circle cx="325.66" cy="300.88" r="0.9"/><circle cx="326.42" cy="300.19" r="0.9"/><circle cx="327.17" cy="300.13" r="0.9"/><circle cx="327.92" cy="299.73" r="0.9"/><circle cx="328.68" cy="299.39" r="0.9"/><circle cx="329.43" cy="298.98" r="0.9"/><circle cx="330.18" cy="298.92" r="0.9"/><circle cx="330.94" cy="298.70" r="0.9"/><circle cx="331.69" cy="298.11" r="0.9"/><circle cx="332.44" cy="297.99" r="0.9"/><circle cx="333.20" cy="297.31" r="0.9"/><circle cx="333.95" cy="297.50" r="0.9"/><circle cx="334.71" cy="297.20" r="0.9"/><circle cx="335.46" cy="296.97" r="0.9"/><circle cx="336.21" cy="296.24" r="0.9"/><circle cx="336.97" cy="295.25" r="0.9"/><circle cx="337.72" cy="294.71" r="0.9"/><circle cx="338.47" cy="294.68" r="0.9"/><circle cx="339.23" cy="294.00" r="0.9"/><circle cx="339.98" cy="294.08" r="0.9"/><circle cx="340.73" cy="293.51" r="0.9"/><circle cx="341.49" cy="293.10" r="0.9"/><circle cx="342.24" cy="292.69" r="0.9"/><circle cx="342.99" cy="292.81" r="0.9"/><circle cx="343.75" cy="291.99" r="0.9"/><circle cx="344.50" cy="291.71" r="0.9"/><circle cx="345.25" cy="291.43" r="0.9"/><circle cx="346.01" cy="291.40" r="0.9"/><circle cx="346.76" cy="290.47" r="0.9"/><circle cx="347.51" cy="290.25" r="0.9"/><circle cx="348.27" cy="289.81" r="0.9"/><circle cx="349.02" cy="289.54" r="0.9"/><circle cx="349.78" cy="288.99" r="0.9"/><circle cx="350.53" cy="288.51" r="0.9"/><circle cx="351.28" cy="287.60" r="0.9"/><circle cx="352.04" cy="287.18" r="0.9"/><circle cx="352.79" cy="286.05" r="0.9"/><circle cx="353.54" cy="285.26" r="0.9"/><circle cx="354.30" cy="284.68" r="0.9"/><circle cx="355.05" cy="283.75" r="0.9"/><circle cx="355.80" cy="283.40" r="0.9"/><circle cx="356.56" cy="283.07" r="0.9"/><circle cx="357.31" cy="282.71" r="0.9"/><circle cx="358.06" cy="282.61" r="0.9"/><circle cx="358.82" cy="282.40" r="0.9"/><circle cx="359.57" cy="281.90" r="0.9"/><circle cx="360.32" cy="281.44" r="0.9"/><circle cx="361.08" cy="281.45" r="0.9"/><circle cx="361.83" cy="281.14" r="0.9"/><circle cx="362.58" cy="281.00" r="0.9"/><circle cx="363.34" cy="281.02" r="0.9"/><circle cx="364.09" cy="280.60" r="0.9"/><circle cx="364.85" cy="280.25" r="0.9"/><circle cx="365.60" cy="280.10" r="0.9"/><circle cx="366.35" cy="279.91" r="0.9"/><circle cx="367.11" cy="279.25" r="0.9"/><circle cx="367.86" cy="279.62" r="0.9"/><circle cx="368.61" cy="279.30" r="0.9"/><circle cx="369.37" cy="279.14" r="0.9"/><circle cx="370.12" cy="278.86" r="0.9"/><circle cx="370.87" cy="278.36" r="0.9"/><circle cx="371.63" cy="278.14" r="0.9"/><circle cx="372.38" cy="277.71" r="0.9"/><circle cx="373.13" cy="277.86" r="0.9"/><circle cx="373.89" cy="277.24" r="0.9"/><circle cx="374.64" cy="277.02" r="0.9"/><circle cx="375.39" cy="276.89" r="0.9"/><circle cx="376.15" cy="276.64" r="0.9"/><circle cx="376.90" cy="276.54" r="0.9"/><circle cx="377.65" cy="276.12" r="0.9"/><circle cx="378.41" cy="275.84" r="0.9"/><circle cx="379.16" cy="275.66" r="0.9"/><circle cx="379.92" cy="275.35" r="0.9"/><circle cx="380.67" cy="275.25" r="0.9"/><circle cx="381.42" cy="274.73" r="0.9"/><circle cx="382.18" cy="275.05" r="0.9"/><circle cx="382.93" cy="274.58" r="0.9"/><circle cx="383.68" cy="273.98" r="0.9"/><circle cx="384.44" cy="273.77" r="0.9"/><circle cx="385.19" cy="273.56" r="0.9"/><circle cx="385.94" cy="273.27" r="0.9"/><circle cx="386.70" cy="272.58" r="0.9"/><circle cx="387.45" cy="272.57" r="0.9"/><circle cx="388.20" cy="272.15" r="0.9"/><circle cx="388.96" cy="271.49" r="0.9"/><circle cx="389.71" cy="271.36" r="0.9"/><circle cx="390.46" cy="270.94" r="0.9"/><circle cx="391.22" cy="270.82" r="0.9"/><circle cx="391.97" cy="270.84" r="0.9"/><circle cx="392.72" cy="270.65" r="0.9"/><circle cx="393.48" cy="270.35" r="0.9"/><circle cx="394.23" cy="269.13" r="0.9"/><circle cx="394.99" cy="268.28" r="0.9"/><circle cx="395.74" cy="268.37" r="0.9"/><circle cx="396.49" cy="267.76" r="0.9"/><circle cx="397.25" cy="267.18" r="0.9"/><circle cx="398.00" cy="267.14" r="0.9"/><circle cx="398.75" cy="266.47" r="0.9"/><circle cx="399.51" cy="266.50" r="0.9"/><circle cx="400.26" cy="266.61" r="0.9"/><circle cx="401.01" cy="266.35" r="0.9"/><circle cx="401.77" cy="266.06" r="0.9"/><circle cx="402.52" cy="265.58" r="0.9"/><circle cx="403.27" cy="265.48" r="0.9"/><circle cx="404.03" cy="265.16" r="0.9"/><circle cx="404.78" cy="265.41" r="0.9"/><circle cx="405.53" cy="265.07" r="0.9"/><circle cx="406.29" cy="265.07" r="0.9"/><circle cx="407.04" cy="264.58" r="0.9"/><circle cx="407.79" cy="264.33" r="0.9"/><circle cx="408.55" cy="264.57" r="0.9"/><circle cx="409.30" cy="264.51" r="0.9"/><circle cx="410.06" cy="264.19" r="0.9"/><circle cx="410.81" cy="263.93" r="0.9"/><circle cx="411.56" cy="263.71" r="0.9"/><circle cx="412.32" cy="263.43" r="0.9"/><circle cx="413.07" cy="262.85" r="0.9"/><circle cx="413.82" cy="262.83" r="0.9"/><circle cx="414.58" cy="262.49" r="0.9"/><circle cx="415.33" cy="262.03" r="0.9"/><circle cx="416.08" cy="261.80" r="0.9"/><circle cx="416.84" cy="261.67" r="0.9"/><circle cx="417.59" cy="261.32" r="0.9"/><circle cx="418.34" cy="261.30" r="0.9"/><circle cx="419.10" cy="261.15" r="0.9"/><circle cx="419.85" cy="260.47" r="0.9"/><circle cx="420.60" cy="260.48" r="0.9"/><circle cx="421.36" cy="260.05" r="0.9"/><circle cx="422.11" cy="259.42" r="0.9"/><circle cx="422.87" cy="258.40" r="0.9"/><circle cx="423.62" cy="257.68" r="0.9"/><circle cx="424.37" cy="257.08" r="0.9"/><circle cx="425.13" cy="256.45" r="0.9"/><circle cx="425.88" cy="255.62" r="0.9"/><circle cx="426.63" cy="255.06" r="0.9"/><circle cx="427.39" cy="254.40" r="0.9"/><circle cx="428.14" cy="253.97" r="0.9"/><circle cx="428.89" cy="253.34" r="0.9"/><circle cx="429.65" cy="253.08" r="0.9"/><circle cx="430.40" cy="252.81" r="0.9"/><circle cx="431.15" cy="251.93" r="0.9"/><circle cx="431.91" cy="251.97" r="0.9"/><circle cx="432.66" cy="251.78" r="0.9"/><circle cx="433.41" cy="251.32" r="0.9"/><circle cx="434.17" cy="250.93" r="0.9"/><circle cx="434.92" cy="250.37" r="0.9"/><circle cx="435.67" cy="249.26" r="0.9"/><circle cx="436.43" cy="248.62" r="0.9"/><circle cx="437.18" cy="247.23" r="0.9"/><circle cx="437.93" cy="246.24" r="0.9"/><circle cx="438.69" cy="244.85" r="0.9"/><circle cx="439.44" cy="243.01" r="0.9"/><circle cx="440.20" cy="242.76" r="0.9"/><circle cx="440.95" cy="242.88" r="0.9"/><circle cx="441.70" cy="242.46" r="0.9"/><circle cx="442.46" cy="241.76" r="0.9"/><circle cx="443.21" cy="241.39" r="0.9"/><circle cx="443.96" cy="241.06" r="0.9"/><circle cx="444.72" cy="240.79" r="0.9"/><circle cx="445.47" cy="239.72" r="0.9"/><circle cx="446.22" cy="238.32" r="0.9"/><circle cx="446.98" cy="237.89" r="0.9"/><circle cx="447.73" cy="237.08" r="0.9"/><circle cx="448.48" cy="236.11" r="0.9"/><circle cx="449.24" cy="235.29" r="0.9"/><circle cx="449.99" cy="234.84" r="0.9"/><circle cx="450.74" cy="233.90" r="0.9"/><circle cx="451.50" cy="233.06" r="0.9"/><circle cx="452.25" cy="232.98" r="0.9"/><circle cx="453.00" cy="231.89" r="0.9"/><circle cx="453.76" cy="230.24" r="0.9"/><circle cx="454.51" cy="229.20" r="0.9"/><circle cx="455.27" cy="228.14" r="0.9"/><circle cx="456.02" cy="227.73" r="0.9"/><circle cx="456.77" cy="226.83" r="0.9"/><circle cx="457.53" cy="225.45" r="0.9"/><circle cx="458.28" cy="224.41" r="0.9"/><circle cx="459.03" cy="222.43" r="0.9"/><circle cx="459.79" cy="219.61" r="0.9"/><circle cx="460.54" cy="218.31" r="0.9"/><circle cx="461.29" cy="217.49" r="0.9"/><circle cx="462.05" cy="216.98" r="0.9"/><circle cx="462.80" cy="215.83" r="0.9"/><circle cx="463.55" cy="215.34" r="0.9"/><circle cx="464.31" cy="212.34" r="0.9"/><circle cx="465.06" cy="206.25" r="0.9"/><circle cx="465.81" cy="202.61" r="0.9"/><circle cx="466.57" cy="201.07" r="0.9"/></g>
<line x1="331.20" y1="300.50" x2="334.80" y2="311.50" stroke="#444" stroke-width="0.8" />
<line x1="363.60" y1="282.80" x2="367.50" y2="293.70" stroke="#444" stroke-width="0.8" />
<line x1="406.30" y1="248.80" x2="420.50" y2="258.50" stroke="#444" stroke-width="0.8" />
<line x1="427.30" y1="257.30" x2="441.30" y2="261.30" stroke="#444" stroke-width="0.8" />
<line x1="421.20" y1="262.00" x2="425.30" y2="271.20" stroke="#444" stroke-width="0.8" />
<text x="344.20" y="319.00" font-size="7.6" text-anchor="middle" fill="#4cb84f" stroke="#4cb84f" stroke-width="0.16" textLength="40.8" lengthAdjust="spacingAndGlyphs" >ALNEKLVNL</text>
<text x="376.50" y="302.20" font-size="7.6" text-anchor="middle" fill="#4cb84f" stroke="#4cb84f" stroke-width="0.16" textLength="41" lengthAdjust="spacingAndGlyphs" >ALNEQIARL</text>
<text x="384.40" y="249.00" font-size="7.6" text-anchor="middle" fill="#4cb84f" stroke="#4cb84f" stroke-width="0.16" textLength="41.2" lengthAdjust="spacingAndGlyphs" >KVLERVNAV</text>
<text x="426.20" y="280.30" font-size="7.6" text-anchor="middle" fill="#4cb84f" stroke="#4cb84f" stroke-width="0.16" textLength="42.5" lengthAdjust="spacingAndGlyphs" >RLAEAHAKV</text>
<text x="464.40" y="264.50" font-size="7.6" text-anchor="middle" fill="#222" stroke="#222" stroke-width="0.16" textLength="41.2" lengthAdjust="spacingAndGlyphs" >MLANDIARL</text>
<circle cx="461.3" cy="326.3" r="0.85" fill="#17508e"/>
<circle cx="461.3" cy="338.6" r="2.3" fill="#c8102e"/>
<text x="467.70" y="329.00" font-size="7.6" text-anchor="start" fill="#222" stroke="#222" stroke-width="0.16" textLength="19.5" lengthAdjust="spacingAndGlyphs" >BB7.2</text>
<text x="467.70" y="341.10" font-size="7.6" text-anchor="start" fill="#222" stroke="#222" stroke-width="0.16" textLength="29.2" lengthAdjust="spacingAndGlyphs" >Clone #1</text>
<text x="7.40" y="434.40" font-size="11" text-anchor="start" fill="#000" font-weight="bold" >E</text>
<polygon points="86.40,589.70 87.29,587.86 87.99,586.02 88.44,584.18 88.76,582.34 88.98,580.50 89.16,578.66 89.31,576.82 89.40,574.98 89.46,573.14 89.51,571.29 89.55,569.45 89.59,567.61 89.62,565.77 89.65,563.93 89.67,562.09 89.70,560.25 89.72,558.41 89.74,556.57 89.76,554.73 89.78,552.89 89.80,551.05 89.82,549.21 89.84,547.37 89.85,545.53 89.87,543.69 89.88,541.85 89.90,540.01 89.92,538.17 89.93,536.33 89.94,534.48 89.96,532.64 89.97,530.80 89.98,528.96 89.99,527.12 90.00,525.28 90.01,523.44 90.03,521.60 90.04,519.76 90.05,517.92 90.06,516.08 90.07,514.24 90.09,512.40 90.10,510.56 90.11,508.72 90.13,506.88 90.15,505.04 90.17,503.20 90.18,501.36 90.21,499.52 90.23,497.67 90.26,495.83 90.29,493.99 90.33,492.15 90.36,490.31 90.41,488.47 90.45,486.63 90.49,484.79 90.54,482.95 90.59,481.11 90.64,479.27 90.69,477.43 90.74,475.59 90.79,473.75 90.85,471.91 90.90,470.07 90.95,468.23 90.99,466.39 91.03,464.55 91.08,462.71 91.13,460.86 91.20,459.02 91.28,457.18 91.38,455.34 91.57,453.50 91.90,451.66 92.23,449.82 92.52,447.98 92.81,446.14 93.10,444.30 93.10,444.30 93.44,446.14 93.71,447.98 93.89,449.82 93.98,451.66 94.05,453.50 94.11,455.34 94.18,457.18 94.24,459.02 94.30,460.86 94.36,462.71 94.42,464.55 94.48,466.39 94.54,468.23 94.60,470.07 94.67,471.91 94.75,473.75 94.83,475.59 94.91,477.43 94.99,479.27 95.08,481.11 95.17,482.95 95.25,484.79 95.34,486.63 95.42,488.47 95.49,490.31 95.57,492.15 95.63,493.99 95.69,495.83 95.75,497.67 95.79,499.52 95.83,501.36 95.86,503.20 95.89,505.04 95.92,506.88 95.94,508.72 95.97,510.56 95.99,512.40 96.02,514.24 96.04,516.08 96.06,517.92 96.08,519.76 96.10,521.60 96.11,523.44 96.13,525.28 96.15,527.12 96.17,528.96 96.19,530.80 96.21,532.64 96.23,534.48 96.25,536.33 96.28,538.17 96.30,540.01 96.33,541.85 96.35,543.69 96.37,545.53 96.40,547.37 96.42,549.21 96.45,551.05 96.48,552.89 96.51,554.73 96.54,556.57 96.57,558.41 96.60,560.25 96.64,562.09 96.67,563.93 96.71,565.77 96.75,567.61 96.80,569.45 96.85,571.29 96.92,573.14 97.00,574.98 97.13,576.82 97.35,578.66 97.64,580.50 97.96,582.34 98.43,584.18 99.01,586.02 99.69,587.86 100.80,589.70" fill="#5e5724"/>
<polygon points="93.70,589.70 93.57,587.93 93.51,586.16 93.42,584.39 93.33,582.63 93.26,580.86 93.20,579.09 93.14,577.32 93.11,575.55 93.09,573.78 93.07,572.02 93.06,570.25 93.04,568.48 93.03,566.71 93.03,564.94 93.02,563.17 93.01,561.41 93.00,559.64 92.99,557.87 92.98,556.10 92.97,554.33 92.96,552.56 92.95,550.80 92.94,549.03 92.94,547.26 92.93,545.49 92.92,543.72 92.91,541.95 92.90,540.19 92.89,538.42 92.88,536.65 92.87,534.88 92.86,533.11 92.86,531.34 92.85,529.58 92.84,527.81 92.83,526.04 92.82,524.27 92.81,522.50 92.80,520.73 92.79,518.97 92.78,517.20 92.77,515.43 92.76,513.66 92.75,511.89 92.74,510.12 92.74,508.36 92.73,506.59 92.72,504.82 92.71,503.05 92.71,501.28 92.70,499.51 92.69,497.75 92.68,495.98 92.68,494.21 92.67,492.44 92.66,490.67 92.65,488.90 92.64,487.14 92.64,485.37 92.63,483.60 92.62,481.83 92.62,480.06 92.61,478.29 92.61,476.53 92.60,474.76 92.60,472.99 92.60,471.22 92.60,469.45 92.60,467.68 92.61,465.92 92.62,464.15 92.63,462.38 92.64,460.61 92.66,458.84 92.67,457.07 92.70,455.31 92.74,453.54 92.81,451.77 92.90,450.00 93.90,450.00 93.97,451.77 94.04,453.54 94.11,455.31 94.17,457.07 94.23,458.84 94.29,460.61 94.35,462.38 94.40,464.15 94.46,465.92 94.52,467.68 94.58,469.45 94.65,471.22 94.72,472.99 94.79,474.76 94.87,476.53 94.95,478.29 95.03,480.06 95.11,481.83 95.20,483.60 95.28,485.37 95.36,487.14 95.44,488.90 95.51,490.67 95.58,492.44 95.64,494.21 95.70,495.98 95.75,497.75 95.79,499.51 95.82,501.28 95.86,503.05 95.89,504.82 95.91,506.59 95.94,508.36 95.96,510.12 95.99,511.89 96.01,513.66 96.03,515.43 96.05,517.20 96.07,518.97 96.09,520.73 96.10,522.50 96.12,524.27 96.14,526.04 96.16,527.81 96.18,529.58 96.20,531.34 96.21,533.11 96.24,534.88 96.26,536.65 96.28,538.42 96.30,540.19 96.33,541.95 96.35,543.72 96.37,545.49 96.40,547.26 96.42,549.03 96.45,550.80 96.47,552.56 96.50,554.33 96.53,556.10 96.56,557.87 96.59,559.64 96.63,561.41 96.66,563.17 96.69,564.94 96.73,566.71 96.77,568.48 96.82,570.25 96.88,572.02 96.95,573.78 97.03,575.55 97.19,577.32 97.42,579.09 97.70,580.86 98.03,582.63 98.49,584.39 99.05,586.16 99.73,587.93 100.80,589.70" fill="#23404a"/>
<polyline points="91.95,455.00 91.89,456.71 91.83,458.41 91.77,460.12 91.71,461.82 91.65,463.53 91.59,465.23 91.54,466.94 91.49,468.64 91.44,470.35 91.39,472.05 91.34,473.76 91.30,475.46 91.25,477.17 91.20,478.87 91.15,480.58 91.11,482.28 91.06,483.99 91.02,485.69 90.98,487.40 90.94,489.10 90.90,490.81 90.87,492.51 90.84,494.22 90.81,495.92 90.78,497.63 90.76,499.33 90.74,501.04 90.72,502.74 90.70,504.45 90.69,506.15 90.67,507.86 90.66,509.56 90.64,511.27 90.63,512.97 90.62,514.68 90.61,516.38 90.60,518.09 90.59,519.79 90.58,521.50 90.57,523.20 90.56,524.91 90.55,526.61 90.53,528.32 90.52,530.02 90.51,531.73 90.50,533.43 90.49,535.14 90.48,536.84 90.46,538.55 90.45,540.25 90.43,541.96 90.42,543.66 90.40,545.37 90.39,547.07 90.37,548.78 90.36,550.48 90.34,552.19 90.32,553.89 90.30,555.60 90.28,557.30 90.26,559.01 90.24,560.71 90.22,562.42 90.19,564.12 90.17,565.83 90.14,567.53 90.11,569.24 90.07,570.94 90.02,572.65 89.97,574.35 89.90,576.06 89.79,577.76 89.64,579.47 89.45,581.17 89.23,582.88 88.90,584.58 88.46,586.29 87.78,587.99 86.95,589.70" fill="none" stroke="#e2d400" stroke-width="0.5"/>
<polyline points="92.40,500.00 92.41,501.14 92.41,502.27 92.42,503.41 92.42,504.54 92.43,505.68 92.43,506.81 92.44,507.95 92.45,509.08 92.45,510.22 92.46,511.35 92.46,512.49 92.47,513.63 92.47,514.76 92.48,515.90 92.49,517.03 92.49,518.17 92.50,519.30 92.50,520.44 92.51,521.57 92.51,522.71 92.52,523.84 92.52,524.98 92.53,526.12 92.54,527.25 92.54,528.39 92.55,529.52 92.55,530.66 92.56,531.79 92.56,532.93 92.57,534.06 92.58,535.20 92.58,536.33 92.59,537.47 92.59,538.61 92.60,539.74 92.60,540.88 92.61,542.01 92.62,543.15 92.62,544.28 92.63,545.42 92.63,546.55 92.64,547.69 92.64,548.82 92.65,549.96 92.65,551.09 92.66,552.23 92.66,553.37 92.67,554.50 92.68,555.64 92.68,556.77 92.69,557.91 92.69,559.04 92.70,560.18 92.71,561.31 92.71,562.45 92.72,563.58 92.72,564.72 92.73,565.86 92.74,566.99 92.74,568.13 92.75,569.26 92.76,570.40 92.77,571.53 92.78,572.67 92.79,573.80 92.80,574.94 92.82,576.07 92.84,577.21 92.87,578.35 92.91,579.48 92.95,580.62 92.99,581.75 93.04,582.89 93.10,584.02 93.16,585.16 93.21,586.29 93.25,587.43 93.30,588.56 93.40,589.70" fill="none" stroke="#b8a818" stroke-width="0.7"/>
<polyline points="93.75,455.00 93.80,456.71 93.86,458.41 93.91,460.12 93.97,461.82 94.03,463.53 94.08,465.23 94.14,466.94 94.20,468.64 94.26,470.35 94.33,472.05 94.40,473.76 94.47,475.46 94.55,477.17 94.63,478.87 94.70,480.58 94.78,482.28 94.86,483.99 94.94,485.69 95.02,487.40 95.09,489.10 95.16,490.81 95.23,492.51 95.29,494.22 95.35,495.92 95.40,497.63 95.44,499.33 95.47,501.04 95.50,502.74 95.53,504.45 95.56,506.15 95.58,507.86 95.61,509.56 95.63,511.27 95.65,512.97 95.67,514.68 95.69,516.38 95.71,518.09 95.73,519.79 95.74,521.50 95.76,523.20 95.78,524.91 95.80,526.61 95.81,528.32 95.83,530.02 95.85,531.73 95.87,533.43 95.89,535.14 95.91,536.84 95.93,538.55 95.95,540.25 95.98,541.96 96.00,543.66 96.02,545.37 96.05,547.07 96.07,548.78 96.09,550.48 96.12,552.19 96.14,553.89 96.17,555.60 96.20,557.30 96.23,559.01 96.26,560.71 96.30,562.42 96.33,564.12 96.36,565.83 96.40,567.53 96.44,569.24 96.49,570.94 96.55,572.65 96.62,574.35 96.72,576.06 96.89,577.76 97.12,579.47 97.40,581.17 97.73,582.88 98.20,584.58 98.75,586.29 99.41,587.99 100.45,589.70" fill="none" stroke="#000" stroke-width="0.9"/>
<polyline points="90.50,500.00 90.49,501.14 90.49,502.27 90.48,503.41 90.47,504.54 90.47,505.68 90.46,506.81 90.45,507.95 90.44,509.08 90.44,510.22 90.43,511.35 90.42,512.49 90.41,513.63 90.40,514.76 90.40,515.90 90.39,517.03 90.38,518.17 90.37,519.30 90.36,520.44 90.35,521.57 90.34,522.71 90.33,523.84 90.33,524.98 90.32,526.12 90.31,527.25 90.30,528.39 90.29,529.52 90.28,530.66 90.27,531.79 90.26,532.93 90.25,534.06 90.24,535.20 90.23,536.33 90.22,537.47 90.21,538.61 90.20,539.74 90.19,540.88 90.18,542.01 90.17,543.15 90.16,544.28 90.15,545.42 90.14,546.55 90.13,547.69 90.12,548.82 90.11,549.96 90.10,551.09 90.09,552.23 90.08,553.37 90.07,554.50 90.05,555.64 90.04,556.77 90.03,557.91 90.01,559.04 90.00,560.18 89.98,561.31 89.97,562.45 89.95,563.58 89.94,564.72 89.92,565.86 89.90,566.99 89.88,568.13 89.86,569.26 89.83,570.40 89.80,571.53 89.77,572.67 89.74,573.80 89.70,574.94 89.65,576.07 89.58,577.21 89.49,578.35 89.39,579.48 89.26,580.62 89.13,581.75 88.97,582.89 88.77,584.02 88.52,585.16 88.21,586.29 87.78,587.43 87.27,588.56 86.70,589.70" fill="none" stroke="#111" stroke-width="0.75"/>
<polyline points="97.20,575.00 97.21,575.19 97.22,575.37 97.23,575.56 97.24,575.74 97.25,575.93 97.26,576.12 97.28,576.30 97.29,576.49 97.31,576.67 97.33,576.86 97.35,577.05 97.37,577.23 97.39,577.42 97.41,577.61 97.43,577.79 97.45,577.98 97.48,578.16 97.50,578.35 97.53,578.54 97.55,578.72 97.58,578.91 97.61,579.09 97.64,579.28 97.67,579.47 97.69,579.65 97.72,579.84 97.76,580.02 97.79,580.21 97.82,580.40 97.85,580.58 97.88,580.77 97.91,580.95 97.95,581.14 97.98,581.33 98.01,581.51 98.05,581.70 98.08,581.88 98.11,582.07 98.15,582.26 98.19,582.44 98.23,582.63 98.27,582.82 98.31,583.00 98.36,583.19 98.40,583.37 98.45,583.56 98.50,583.75 98.56,583.93 98.61,584.12 98.66,584.30 98.72,584.49 98.78,584.68 98.83,584.86 98.89,585.05 98.95,585.23 99.01,585.42 99.07,585.61 99.13,585.79 99.19,585.98 99.25,586.16 99.32,586.35 99.38,586.54 99.45,586.72 99.51,586.91 99.58,587.09 99.65,587.28 99.73,587.47 99.81,587.65 99.89,587.84 99.97,588.03 100.06,588.21 100.15,588.40 100.24,588.58 100.35,588.77 100.47,588.96 100.59,589.14 100.72,589.33 100.86,589.51 101.00,589.70" fill="none" stroke="#40c040" stroke-width="0.4"/>
<line x1="91.6" y1="452.5" x2="91.3" y2="460.5" stroke="#8a3fe0" stroke-width="1.0"/>
<line x1="93.1" y1="444.2" x2="93.3" y2="447.2" stroke="#3ec040" stroke-width="1.1"/>
<line x1="93.3" y1="447.0" x2="93.5" y2="450.5" stroke="#1aa0a0" stroke-width="1.1"/>
<rect x="55.50" y="436.60" width="153.90" height="153.10" fill="none" stroke="#000" stroke-width="1.3"/>
<line x1="52.10" y1="589.70" x2="55.50" y2="589.70" stroke="#111" stroke-width="0.9" />
<text x="49.10" y="592.70" font-size="9.2" text-anchor="end" fill="#222" stroke="#222" stroke-width="0.16" textLength="4.1" lengthAdjust="spacingAndGlyphs" >0</text>
<line x1="53.50" y1="582.43" x2="55.50" y2="582.43" stroke="#111" stroke-width="0.9" />
<line x1="53.50" y1="575.15" x2="55.50" y2="575.15" stroke="#111" stroke-width="0.9" />
<line x1="53.50" y1="567.88" x2="55.50" y2="567.88" stroke="#111" stroke-width="0.9" />
<line x1="52.10" y1="560.60" x2="55.50" y2="560.60" stroke="#111" stroke-width="0.9" />
<text x="49.10" y="563.60" font-size="9.2" text-anchor="end" fill="#222" stroke="#222" stroke-width="0.16" textLength="8.2" lengthAdjust="spacingAndGlyphs" >20</text>
<line x1="53.50" y1="553.33" x2="55.50" y2="553.33" stroke="#111" stroke-width="0.9" />
<line x1="53.50" y1="546.05" x2="55.50" y2="546.05" stroke="#111" stroke-width="0.9" />
<line x1="53.50" y1="538.78" x2="55.50" y2="538.78" stroke="#111" stroke-width="0.9" />
<line x1="52.10" y1="531.50" x2="55.50" y2="531.50" stroke="#111" stroke-width="0.9" />
<text x="49.10" y="534.50" font-size="9.2" text-anchor="end" fill="#222" stroke="#222" stroke-width="0.16" textLength="8.2" lengthAdjust="spacingAndGlyphs" >40</text>
<line x1="53.50" y1="524.23" x2="55.50" y2="524.23" stroke="#111" stroke-width="0.9" />
<line x1="53.50" y1="516.95" x2="55.50" y2="516.95" stroke="#111" stroke-width="0.9" />
<line x1="53.50" y1="509.68" x2="55.50" y2="509.68" stroke="#111" stroke-width="0.9" />
<line x1="52.10" y1="502.40" x2="55.50" y2="502.40" stroke="#111" stroke-width="0.9" />
<text x="49.10" y="505.40" font-size="9.2" text-anchor="end" fill="#222" stroke="#222" stroke-width="0.16" textLength="8.2" lengthAdjust="spacingAndGlyphs" >60</text>
<line x1="53.50" y1="495.13" x2="55.50" y2="495.13" stroke="#111" stroke-width="0.9" />
<line x1="53.50" y1="487.85" x2="55.50" y2="487.85" stroke="#111" stroke-width="0.9" />
<line x1="53.50" y1="480.58" x2="55.50" y2="480.58" stroke="#111" stroke-width="0.9" />
<line x1="52.10" y1="473.30" x2="55.50" y2="473.30" stroke="#111" stroke-width="0.9" />
<text x="49.10" y="476.30" font-size="9.2" text-anchor="end" fill="#222" stroke="#222" stroke-width="0.16" textLength="8.2" lengthAdjust="spacingAndGlyphs" >80</text>
<line x1="53.50" y1="466.03" x2="55.50" y2="466.03" stroke="#111" stroke-width="0.9" />
<line x1="53.50" y1="458.75" x2="55.50" y2="458.75" stroke="#111" stroke-width="0.9" />
<line x1="53.50" y1="451.48" x2="55.50" y2="451.48" stroke="#111" stroke-width="0.9" />
<line x1="52.10" y1="444.20" x2="55.50" y2="444.20" stroke="#111" stroke-width="0.9" />
<text x="49.10" y="447.20" font-size="9.2" text-anchor="end" fill="#222" stroke="#222" stroke-width="0.16" textLength="12.3" lengthAdjust="spacingAndGlyphs" >100</text>
<line x1="53.50" y1="436.93" x2="55.50" y2="436.93" stroke="#111" stroke-width="0.9" />
<line x1="63.57" y1="589.70" x2="63.57" y2="592.70" stroke="#111" stroke-width="0.75" />
<line x1="65.16" y1="589.70" x2="65.16" y2="591.70" stroke="#111" stroke-width="0.75" />
<line x1="66.91" y1="589.70" x2="66.91" y2="591.70" stroke="#111" stroke-width="0.75" />
<line x1="68.86" y1="589.70" x2="68.86" y2="591.70" stroke="#111" stroke-width="0.75" />
<line x1="71.03" y1="589.70" x2="71.03" y2="591.70" stroke="#111" stroke-width="0.75" />
<line x1="73.48" y1="589.70" x2="73.48" y2="591.70" stroke="#111" stroke-width="0.75" />
<line x1="76.27" y1="589.70" x2="76.27" y2="591.70" stroke="#111" stroke-width="0.75" />
<line x1="79.46" y1="589.70" x2="79.46" y2="591.70" stroke="#111" stroke-width="0.75" />
<line x1="83.10" y1="589.70" x2="83.10" y2="591.70" stroke="#111" stroke-width="0.75" />
<line x1="87.16" y1="589.70" x2="87.16" y2="591.70" stroke="#111" stroke-width="0.75" />
<line x1="91.50" y1="589.70" x2="91.50" y2="592.70" stroke="#111" stroke-width="0.75" />
<line x1="95.84" y1="589.70" x2="95.84" y2="591.70" stroke="#111" stroke-width="0.75" />
<line x1="99.90" y1="589.70" x2="99.90" y2="591.70" stroke="#111" stroke-width="0.75" />
<line x1="103.54" y1="589.70" x2="103.54" y2="591.70" stroke="#111" stroke-width="0.75" />
<line x1="106.73" y1="589.70" x2="106.73" y2="591.70" stroke="#111" stroke-width="0.75" />
<line x1="109.52" y1="589.70" x2="109.52" y2="591.70" stroke="#111" stroke-width="0.75" />
<line x1="111.97" y1="589.70" x2="111.97" y2="591.70" stroke="#111" stroke-width="0.75" />
<line x1="114.14" y1="589.70" x2="114.14" y2="591.70" stroke="#111" stroke-width="0.75" />
<line x1="116.09" y1="589.70" x2="116.09" y2="591.70" stroke="#111" stroke-width="0.75" />
<line x1="117.84" y1="589.70" x2="117.84" y2="591.70" stroke="#111" stroke-width="0.75" />
<line x1="119.43" y1="589.70" x2="119.43" y2="592.70" stroke="#111" stroke-width="0.75" />
<line x1="130.30" y1="589.70" x2="130.30" y2="591.70" stroke="#111" stroke-width="0.75" />
<line x1="136.81" y1="589.70" x2="136.81" y2="591.70" stroke="#111" stroke-width="0.75" />
<line x1="141.45" y1="589.70" x2="141.45" y2="591.70" stroke="#111" stroke-width="0.75" />
<line x1="145.06" y1="589.70" x2="145.06" y2="591.70" stroke="#111" stroke-width="0.75" />
<line x1="148.02" y1="589.70" x2="148.02" y2="591.70" stroke="#111" stroke-width="0.75" />
<line x1="150.52" y1="589.70" x2="150.52" y2="591.70" stroke="#111" stroke-width="0.75" />
<line x1="152.68" y1="589.70" x2="152.68" y2="591.70" stroke="#111" stroke-width="0.75" />
<line x1="154.59" y1="589.70" x2="154.59" y2="591.70" stroke="#111" stroke-width="0.75" />
<line x1="167.56" y1="589.70" x2="167.56" y2="591.70" stroke="#111" stroke-width="0.75" />
<line x1="174.14" y1="589.70" x2="174.14" y2="591.70" stroke="#111" stroke-width="0.75" />
<line x1="178.81" y1="589.70" x2="178.81" y2="591.70" stroke="#111" stroke-width="0.75" />
<line x1="182.43" y1="589.70" x2="182.43" y2="591.70" stroke="#111" stroke-width="0.75" />
<line x1="185.40" y1="589.70" x2="185.40" y2="591.70" stroke="#111" stroke-width="0.75" />
<line x1="187.90" y1="589.70" x2="187.90" y2="591.70" stroke="#111" stroke-width="0.75" />
<line x1="190.07" y1="589.70" x2="190.07" y2="591.70" stroke="#111" stroke-width="0.75" />
<line x1="191.98" y1="589.70" x2="191.98" y2="591.70" stroke="#111" stroke-width="0.75" />
<line x1="204.95" y1="589.70" x2="204.95" y2="591.70" stroke="#111" stroke-width="0.75" />
<line x1="156.30" y1="589.70" x2="156.30" y2="592.70" stroke="#111" stroke-width="0.75" />
<line x1="193.69" y1="589.70" x2="193.69" y2="592.70" stroke="#111" stroke-width="0.75" />
<text x="69.00" y="603.50" font-size="8.4" text-anchor="middle" fill="#222" stroke="#222" stroke-width="0.16"><tspan textLength="12.5" lengthAdjust="spacingAndGlyphs">&#8722;10</tspan><tspan font-size="6.4" dy="-3.7" dx="0.2">3</tspan></text>
<text x="93.20" y="603.50" font-size="8.4" text-anchor="middle" fill="#222" stroke="#222" stroke-width="0.16" textLength="4.3" lengthAdjust="spacingAndGlyphs" >0</text>
<text x="120.00" y="603.50" font-size="8.4" text-anchor="middle" fill="#222" stroke="#222" stroke-width="0.16"><tspan textLength="8.6" lengthAdjust="spacingAndGlyphs">10</tspan><tspan font-size="6.4" dy="-3.7" dx="0.2">3</tspan></text>
<text x="160.90" y="603.50" font-size="8.4" text-anchor="middle" fill="#222" stroke="#222" stroke-width="0.16"><tspan textLength="8.6" lengthAdjust="spacingAndGlyphs">10</tspan><tspan font-size="6.4" dy="-3.7" dx="0.2">4</tspan></text>
<text x="198.80" y="603.50" font-size="8.4" text-anchor="middle" fill="#222" stroke="#222" stroke-width="0.16"><tspan textLength="8.6" lengthAdjust="spacingAndGlyphs">10</tspan><tspan font-size="6.4" dy="-3.7" dx="0.2">5</tspan></text>
<text x="132.70" y="616.70" font-size="8.8" text-anchor="middle" fill="#222" stroke="#222" stroke-width="0.16" textLength="14.6" lengthAdjust="spacingAndGlyphs" >PE-A</text>
<text x="132.20" y="431.00" font-size="9.2" text-anchor="middle" fill="#222" stroke="#222" stroke-width="0.16" textLength="28.0" lengthAdjust="spacingAndGlyphs" >mIgG1</text>
<text x="0.00" y="0.00" font-size="9.6" text-anchor="middle" fill="#222" stroke="#222" stroke-width="0.16" textLength="68.4" lengthAdjust="spacingAndGlyphs" transform="translate(30.6,513.1) rotate(-90)">Normalized to mode</text>
<polygon points="336.50,589.20 337.70,588.60 341.50,587.90 351.20,587.30 358.80,586.00 363.70,583.10 367.50,579.20 369.40,574.40 370.80,571.60 372.70,571.50 374.60,569.60 376.20,563.80 378.10,552.30 379.60,544.60 381.00,538.80 382.90,529.20 384.70,517.00 386.40,501.50 388.00,484.90 389.20,470.80 389.90,465.60 391.20,463.70 392.40,461.20 393.10,454.10 394.10,449.20 395.00,452.80 396.30,459.20 397.20,461.80 398.20,468.20 400.10,481.00 402.10,497.70 404.00,514.40 405.00,525.40 406.90,544.60 408.80,560.00 410.80,573.50 413.10,582.10 415.60,586.90 417.50,588.80 418.50,589.30" fill="#90e2f8" stroke="#1fb6e6" stroke-width="0.9" stroke-linejoin="round"/>
<polygon points="305.40,589.70 305.82,587.91 306.21,586.11 306.57,584.32 306.88,582.53 307.16,580.73 307.41,578.94 307.65,577.14 307.86,575.35 308.06,573.56 308.25,571.76 308.43,569.97 308.60,568.18 308.77,566.38 308.93,564.59 309.08,562.79 309.22,561.00 309.36,559.21 309.50,557.41 309.64,555.62 309.77,553.83 309.90,552.03 310.03,550.24 310.15,548.45 310.27,546.65 310.37,544.86 310.47,543.06 310.55,541.27 310.62,539.48 310.68,537.68 310.74,535.89 310.79,534.10 310.83,532.30 310.87,530.51 310.91,528.72 310.95,526.92 310.98,525.13 311.01,523.33 311.04,521.54 311.07,519.75 311.10,517.95 311.13,516.16 311.16,514.37 311.20,512.57 311.24,510.78 311.29,508.98 311.34,507.19 311.39,505.40 311.45,503.60 311.52,501.81 311.60,500.02 311.71,498.22 311.88,496.43 312.09,494.64 312.30,492.84 312.50,491.05 312.67,489.25 312.82,487.46 312.96,485.67 313.10,483.87 313.24,482.08 313.37,480.29 313.50,478.49 313.64,476.70 313.78,474.91 313.92,473.11 314.08,471.32 314.25,469.52 314.42,467.73 314.60,465.94 314.79,464.14 315.00,462.35 315.23,460.56 315.47,458.76 315.74,456.97 316.03,455.17 316.35,453.38 316.68,451.59 317.03,449.79 317.40,448.00 317.60,448.00 317.82,449.79 318.04,451.59 318.25,453.38 318.46,455.17 318.67,456.97 318.87,458.76 319.06,460.56 319.25,462.35 319.44,464.14 319.63,465.94 319.80,467.73 319.96,469.52 320.11,471.32 320.24,473.11 320.38,474.91 320.51,476.70 320.63,478.49 320.75,480.29 320.86,482.08 320.97,483.87 321.07,485.67 321.17,487.46 321.26,489.25 321.35,491.05 321.42,492.84 321.49,494.64 321.55,496.43 321.62,498.22 321.70,500.02 321.79,501.81 321.87,503.60 321.96,505.40 322.05,507.19 322.15,508.98 322.24,510.78 322.34,512.57 322.44,514.37 322.55,516.16 322.65,517.95 322.76,519.75 322.88,521.54 323.00,523.33 323.12,525.13 323.24,526.92 323.37,528.72 323.51,530.51 323.65,532.30 323.79,534.10 323.94,535.89 324.09,537.68 324.25,539.48 324.42,541.27 324.60,543.06 324.81,544.86 325.02,546.65 325.25,548.45 325.49,550.24 325.75,552.03 326.01,553.83 326.29,555.62 326.58,557.41 326.87,559.21 327.17,561.00 327.50,562.79 327.85,564.59 328.23,566.38 328.62,568.18 329.02,569.97 329.44,571.76 329.86,573.56 330.28,575.35 330.72,577.14 331.19,578.94 331.67,580.73 332.16,582.53 332.69,584.32 333.23,586.11 333.81,587.91 334.40,589.70" fill="#6e7034" stroke="#e6ee00" stroke-width="0.9" stroke-linejoin="round"/>
<polygon points="305.90,589.70 306.32,587.96 306.70,586.21 307.05,584.47 307.34,582.73 307.59,580.98 307.82,579.24 308.02,577.50 308.22,575.76 308.41,574.01 308.59,572.27 308.77,570.53 308.94,568.78 309.11,567.04 309.27,565.30 309.42,563.55 309.56,561.81 309.69,560.07 309.82,558.33 309.95,556.58 310.07,554.84 310.19,553.10 310.31,551.35 310.42,549.61 310.52,547.87 310.62,546.12 310.71,544.38 310.79,542.64 310.87,540.89 310.93,539.15 310.99,537.41 311.04,535.67 311.09,533.92 311.13,532.18 311.17,530.44 311.21,528.69 311.24,526.95 311.27,525.21 311.30,523.46 311.33,521.72 311.36,519.98 311.40,518.24 311.43,516.49 311.46,514.75 311.50,513.01 311.53,511.26 311.58,509.52 311.62,507.78 311.68,506.03 311.73,504.29 311.80,502.55 311.87,500.81 311.95,499.06 312.09,497.32 312.26,495.58 312.44,493.83 312.62,492.09 312.77,490.35 312.89,488.60 313.00,486.86 313.10,485.12 313.20,483.37 313.29,481.63 313.37,479.89 313.46,478.15 313.55,476.40 313.64,474.66 313.73,472.92 313.83,471.17 313.94,469.43 314.04,467.69 314.16,465.94 314.27,464.20 314.40,462.46 314.54,460.72 314.69,458.97 314.87,457.23 315.07,455.49 315.28,453.74 315.50,452.00 315.50,452.00 315.82,453.74 316.12,455.49 316.40,457.23 316.66,458.97 316.89,460.72 317.11,462.46 317.31,464.20 317.50,465.94 317.68,467.69 317.85,469.43 318.01,471.17 318.16,472.92 318.31,474.66 318.45,476.40 318.59,478.15 318.72,479.89 318.85,481.63 318.98,483.37 319.09,485.12 319.21,486.86 319.32,488.60 319.42,490.35 319.51,492.09 319.60,493.83 319.68,495.58 319.77,497.32 319.85,499.06 319.94,500.81 320.03,502.55 320.12,504.29 320.21,506.03 320.30,507.78 320.39,509.52 320.47,511.26 320.56,513.01 320.65,514.75 320.74,516.49 320.83,518.24 320.92,519.98 321.02,521.72 321.12,523.46 321.22,525.21 321.33,526.95 321.44,528.69 321.55,530.44 321.68,532.18 321.80,533.92 321.94,535.67 322.08,537.41 322.23,539.15 322.38,540.89 322.56,542.64 322.77,544.38 322.99,546.12 323.23,547.87 323.48,549.61 323.75,551.35 324.03,553.10 324.32,554.84 324.61,556.58 324.91,558.33 325.21,560.07 325.52,561.81 325.85,563.55 326.19,565.30 326.55,567.04 326.92,568.78 327.29,570.53 327.68,572.27 328.08,574.01 328.47,575.76 328.88,577.50 329.31,579.24 329.76,580.98 330.22,582.73 330.72,584.47 331.25,586.21 331.81,587.96 332.40,589.70" fill="#5e6535" stroke="#000" stroke-width="0.9" stroke-linejoin="round"/>
<path d="M315.0,452 L315.5,444.8 L316.2,449" fill="none" stroke="#3ab54a" stroke-width="0.9"/>
<line x1="314.6" y1="448" x2="314.0" y2="456" stroke="#e060c0" stroke-width="0.6"/>
<rect x="279.50" y="436.80" width="151.50" height="152.90" fill="none" stroke="#000" stroke-width="1.3"/>
<line x1="276.10" y1="589.70" x2="279.50" y2="589.70" stroke="#111" stroke-width="0.9" />
<text x="273.10" y="592.70" font-size="9.2" text-anchor="end" fill="#222" stroke="#222" stroke-width="0.16" textLength="4.1" lengthAdjust="spacingAndGlyphs" >0</text>
<line x1="277.50" y1="582.49" x2="279.50" y2="582.49" stroke="#111" stroke-width="0.9" />
<line x1="277.50" y1="575.27" x2="279.50" y2="575.27" stroke="#111" stroke-width="0.9" />
<line x1="277.50" y1="568.06" x2="279.50" y2="568.06" stroke="#111" stroke-width="0.9" />
<line x1="276.10" y1="560.84" x2="279.50" y2="560.84" stroke="#111" stroke-width="0.9" />
<text x="273.10" y="563.84" font-size="9.2" text-anchor="end" fill="#222" stroke="#222" stroke-width="0.16" textLength="8.2" lengthAdjust="spacingAndGlyphs" >20</text>
<line x1="277.50" y1="553.62" x2="279.50" y2="553.62" stroke="#111" stroke-width="0.9" />
<line x1="277.50" y1="546.41" x2="279.50" y2="546.41" stroke="#111" stroke-width="0.9" />
<line x1="277.50" y1="539.20" x2="279.50" y2="539.20" stroke="#111" stroke-width="0.9" />
<line x1="276.10" y1="531.98" x2="279.50" y2="531.98" stroke="#111" stroke-width="0.9" />
<text x="273.10" y="534.98" font-size="9.2" text-anchor="end" fill="#222" stroke="#222" stroke-width="0.16" textLength="8.2" lengthAdjust="spacingAndGlyphs" >40</text>
<line x1="277.50" y1="524.77" x2="279.50" y2="524.77" stroke="#111" stroke-width="0.9" />
<line x1="277.50" y1="517.55" x2="279.50" y2="517.55" stroke="#111" stroke-width="0.9" />
<line x1="277.50" y1="510.34" x2="279.50" y2="510.34" stroke="#111" stroke-width="0.9" />
<line x1="276.10" y1="503.12" x2="279.50" y2="503.12" stroke="#111" stroke-width="0.9" />
<text x="273.10" y="506.12" font-size="9.2" text-anchor="end" fill="#222" stroke="#222" stroke-width="0.16" textLength="8.2" lengthAdjust="spacingAndGlyphs" >60</text>
<line x1="277.50" y1="495.91" x2="279.50" y2="495.91" stroke="#111" stroke-width="0.9" />
<line x1="277.50" y1="488.69" x2="279.50" y2="488.69" stroke="#111" stroke-width="0.9" />
<line x1="277.50" y1="481.48" x2="279.50" y2="481.48" stroke="#111" stroke-width="0.9" />
<line x1="276.10" y1="474.26" x2="279.50" y2="474.26" stroke="#111" stroke-width="0.9" />
<text x="273.10" y="477.26" font-size="9.2" text-anchor="end" fill="#222" stroke="#222" stroke-width="0.16" textLength="8.2" lengthAdjust="spacingAndGlyphs" >80</text>
<line x1="277.50" y1="467.05" x2="279.50" y2="467.05" stroke="#111" stroke-width="0.9" />
<line x1="277.50" y1="459.83" x2="279.50" y2="459.83" stroke="#111" stroke-width="0.9" />
<line x1="277.50" y1="452.62" x2="279.50" y2="452.62" stroke="#111" stroke-width="0.9" />
<line x1="276.10" y1="445.40" x2="279.50" y2="445.40" stroke="#111" stroke-width="0.9" />
<text x="273.10" y="448.40" font-size="9.2" text-anchor="end" fill="#222" stroke="#222" stroke-width="0.16" textLength="12.3" lengthAdjust="spacingAndGlyphs" >100</text>
<line x1="277.50" y1="438.19" x2="279.50" y2="438.19" stroke="#111" stroke-width="0.9" />
<line x1="287.45" y1="589.70" x2="287.45" y2="592.70" stroke="#111" stroke-width="0.75" />
<line x1="289.02" y1="589.70" x2="289.02" y2="591.70" stroke="#111" stroke-width="0.75" />
<line x1="290.75" y1="589.70" x2="290.75" y2="591.70" stroke="#111" stroke-width="0.75" />
<line x1="292.66" y1="589.70" x2="292.66" y2="591.70" stroke="#111" stroke-width="0.75" />
<line x1="294.81" y1="589.70" x2="294.81" y2="591.70" stroke="#111" stroke-width="0.75" />
<line x1="297.22" y1="589.70" x2="297.22" y2="591.70" stroke="#111" stroke-width="0.75" />
<line x1="299.97" y1="589.70" x2="299.97" y2="591.70" stroke="#111" stroke-width="0.75" />
<line x1="303.12" y1="589.70" x2="303.12" y2="591.70" stroke="#111" stroke-width="0.75" />
<line x1="306.70" y1="589.70" x2="306.70" y2="591.70" stroke="#111" stroke-width="0.75" />
<line x1="310.70" y1="589.70" x2="310.70" y2="591.70" stroke="#111" stroke-width="0.75" />
<line x1="314.98" y1="589.70" x2="314.98" y2="592.70" stroke="#111" stroke-width="0.75" />
<line x1="319.25" y1="589.70" x2="319.25" y2="591.70" stroke="#111" stroke-width="0.75" />
<line x1="323.26" y1="589.70" x2="323.26" y2="591.70" stroke="#111" stroke-width="0.75" />
<line x1="326.84" y1="589.70" x2="326.84" y2="591.70" stroke="#111" stroke-width="0.75" />
<line x1="329.98" y1="589.70" x2="329.98" y2="591.70" stroke="#111" stroke-width="0.75" />
<line x1="332.73" y1="589.70" x2="332.73" y2="591.70" stroke="#111" stroke-width="0.75" />
<line x1="335.15" y1="589.70" x2="335.15" y2="591.70" stroke="#111" stroke-width="0.75" />
<line x1="337.29" y1="589.70" x2="337.29" y2="591.70" stroke="#111" stroke-width="0.75" />
<line x1="339.21" y1="589.70" x2="339.21" y2="591.70" stroke="#111" stroke-width="0.75" />
<line x1="340.93" y1="589.70" x2="340.93" y2="591.70" stroke="#111" stroke-width="0.75" />
<line x1="342.51" y1="589.70" x2="342.51" y2="592.70" stroke="#111" stroke-width="0.75" />
<line x1="353.21" y1="589.70" x2="353.21" y2="591.70" stroke="#111" stroke-width="0.75" />
<line x1="359.63" y1="589.70" x2="359.63" y2="591.70" stroke="#111" stroke-width="0.75" />
<line x1="364.21" y1="589.70" x2="364.21" y2="591.70" stroke="#111" stroke-width="0.75" />
<line x1="367.76" y1="589.70" x2="367.76" y2="591.70" stroke="#111" stroke-width="0.75" />
<line x1="370.68" y1="589.70" x2="370.68" y2="591.70" stroke="#111" stroke-width="0.75" />
<line x1="373.14" y1="589.70" x2="373.14" y2="591.70" stroke="#111" stroke-width="0.75" />
<line x1="375.27" y1="589.70" x2="375.27" y2="591.70" stroke="#111" stroke-width="0.75" />
<line x1="377.16" y1="589.70" x2="377.16" y2="591.70" stroke="#111" stroke-width="0.75" />
<line x1="389.93" y1="589.70" x2="389.93" y2="591.70" stroke="#111" stroke-width="0.75" />
<line x1="396.42" y1="589.70" x2="396.42" y2="591.70" stroke="#111" stroke-width="0.75" />
<line x1="401.02" y1="589.70" x2="401.02" y2="591.70" stroke="#111" stroke-width="0.75" />
<line x1="404.59" y1="589.70" x2="404.59" y2="591.70" stroke="#111" stroke-width="0.75" />
<line x1="407.51" y1="589.70" x2="407.51" y2="591.70" stroke="#111" stroke-width="0.75" />
<line x1="409.98" y1="589.70" x2="409.98" y2="591.70" stroke="#111" stroke-width="0.75" />
<line x1="412.12" y1="589.70" x2="412.12" y2="591.70" stroke="#111" stroke-width="0.75" />
<line x1="414.00" y1="589.70" x2="414.00" y2="591.70" stroke="#111" stroke-width="0.75" />
<line x1="426.78" y1="589.70" x2="426.78" y2="591.70" stroke="#111" stroke-width="0.75" />
<line x1="378.84" y1="589.70" x2="378.84" y2="592.70" stroke="#111" stroke-width="0.75" />
<line x1="415.69" y1="589.70" x2="415.69" y2="592.70" stroke="#111" stroke-width="0.75" />
<text x="292.90" y="603.50" font-size="8.4" text-anchor="middle" fill="#222" stroke="#222" stroke-width="0.16"><tspan textLength="12.5" lengthAdjust="spacingAndGlyphs">&#8722;10</tspan><tspan font-size="6.4" dy="-3.7" dx="0.2">3</tspan></text>
<text x="316.40" y="603.50" font-size="8.4" text-anchor="middle" fill="#222" stroke="#222" stroke-width="0.16" textLength="4.3" lengthAdjust="spacingAndGlyphs" >0</text>
<text x="342.80" y="603.50" font-size="8.4" text-anchor="middle" fill="#222" stroke="#222" stroke-width="0.16"><tspan textLength="8.6" lengthAdjust="spacingAndGlyphs">10</tspan><tspan font-size="6.4" dy="-3.7" dx="0.2">3</tspan></text>
<text x="383.60" y="603.50" font-size="8.4" text-anchor="middle" fill="#222" stroke="#222" stroke-width="0.16"><tspan textLength="8.6" lengthAdjust="spacingAndGlyphs">10</tspan><tspan font-size="6.4" dy="-3.7" dx="0.2">4</tspan></text>
<text x="419.60" y="603.50" font-size="8.4" text-anchor="middle" fill="#222" stroke="#222" stroke-width="0.16"><tspan textLength="8.6" lengthAdjust="spacingAndGlyphs">10</tspan><tspan font-size="6.4" dy="-3.7" dx="0.2">5</tspan></text>
<text x="355.50" y="616.70" font-size="8.8" text-anchor="middle" fill="#222" stroke="#222" stroke-width="0.16" textLength="14.6" lengthAdjust="spacingAndGlyphs" >PE-A</text>
<text x="355.00" y="431.00" font-size="9.2" text-anchor="middle" fill="#222" stroke="#222" stroke-width="0.16" textLength="33.7" lengthAdjust="spacingAndGlyphs" >Clone C</text>
<text x="0.00" y="0.00" font-size="9.6" text-anchor="middle" fill="#222" stroke="#222" stroke-width="0.16" textLength="68.4" lengthAdjust="spacingAndGlyphs" transform="translate(254.6,512.3) rotate(-90)">Normalized to mode</text>
<rect x="0.5" y="0.5" width="519" height="623" fill="none" stroke="#000" stroke-width="1.2"/>
</svg>
</body></html>
